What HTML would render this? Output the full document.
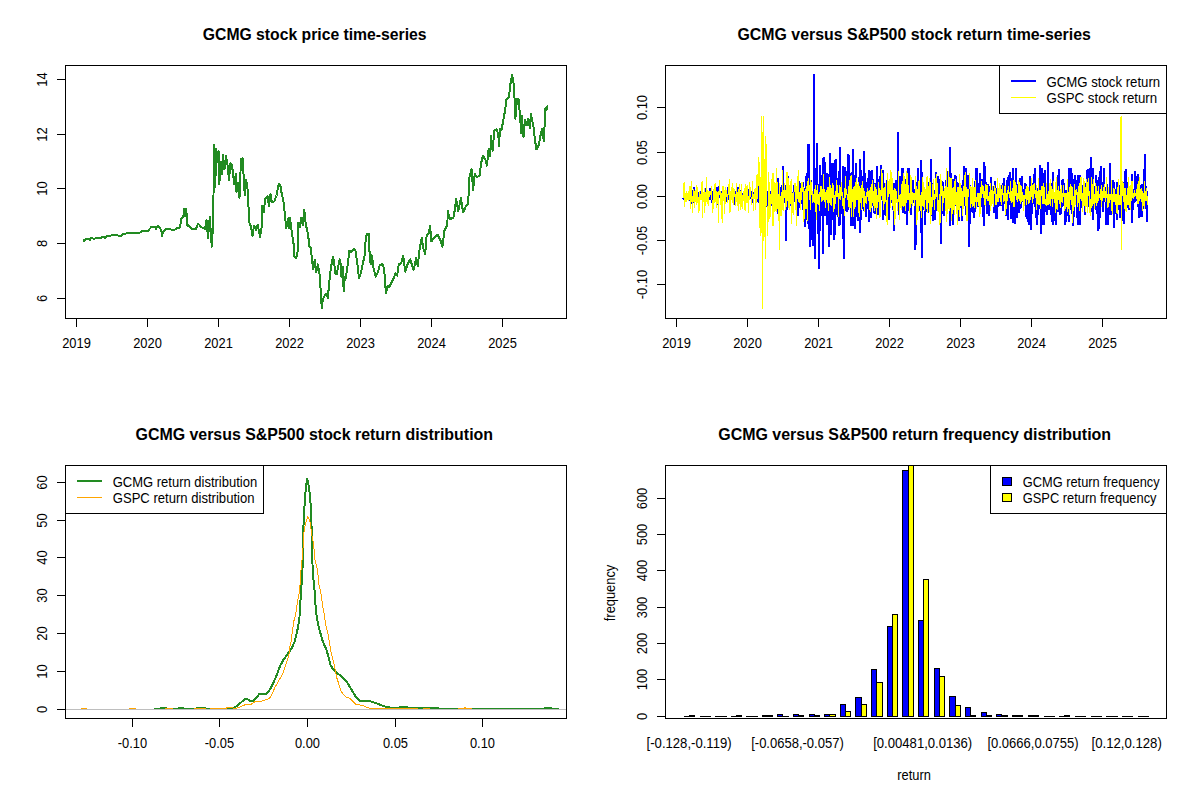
<!DOCTYPE html>
<html><head><meta charset="utf-8"><style>
html,body{margin:0;padding:0;background:#fff;width:1200px;height:800px;overflow:hidden}
svg{display:block}
text{font-family:"Liberation Sans",sans-serif;fill:#000}
.a{font-size:12.9px}
.t{font-size:15.6px;font-weight:bold}
</style></head><body>
<svg width="1200" height="800" viewBox="0 0 1200 800">
<defs><clipPath id="c1"><rect x="65" y="65" width="502" height="254"/></clipPath><clipPath id="c2"><rect x="665" y="65" width="502" height="254"/></clipPath><clipPath id="c3"><rect x="65" y="465" width="502" height="254"/></clipPath><clipPath id="c4"><rect x="665" y="465" width="502" height="254"/></clipPath></defs>
<polyline points="83.50,242.20 84.40,239.90 87.20,239.00 89.90,239.90 90.80,237.60 94.00,239.00 96.30,237.60 101.80,237.60 102.70,236.70 105.50,238.00 107.30,235.75 114.70,235.30 121.10,235.75 122.90,234.40 125.70,233.50 128.40,232.80 139.40,232.80 141.20,231.60 144.00,230.70 148.10,230.70 151.30,227.00 153.20,227.50 155.00,226.60 155.90,228.90 157.70,225.70 160.00,227.50 161.40,231.20 161.90,236.20 163.20,232.10 165.50,229.30 169.70,229.30 174.20,230.20 177.90,227.50 179.70,227.50 180.70,222.90 181.60,217.90 183.40,217.40 183.90,208.70 185.20,216.50 186.20,208.70 187.50,226.10 188.50,225.00 191.50,228.75 196.00,228.75 198.20,223.50 201.20,227.20 205.00,228.75 206.50,219.75 208.00,237.75 209.80,216.75 211.75,246.75 213.25,221.25 214.00,144.75 215.20,187.50 216.25,148.50 217.75,162.00 218.50,150.75 219.25,184.50 220.75,162.00 222.25,174.00 223.00,154.50 224.50,169.50 226.00,156.00 227.50,165.00 229.00,180.00 230.50,163.50 232.00,165.00 234.25,184.50 235.75,174.00 236.50,192.00 238.00,183.00 239.50,198.00 241.00,159.00 242.50,158.25 243.25,169.50 244.75,195.00 246.25,180.00 247.75,190.50 248.50,207.00 249.25,222.00 251.00,227.00 252.50,236.00 254.00,225.50 256.25,230.00 257.75,224.75 260.00,236.75 261.50,228.50 262.25,206.00 263.75,212.00 265.25,198.50 267.50,196.25 269.00,206.00 270.50,194.00 272.00,202.25 274.25,201.50 276.50,195.50 278.75,183.50 280.25,185.00 281.75,194.00 283.25,200.00 284.75,213.50 286.25,228.50 288.50,218.00 289.25,228.50 290.00,218.00 291.50,230.00 293.75,245.00 294.50,257.00 296.00,258.50 297.50,252.50 298.25,222.50 299.75,227.00 301.25,218.00 302.75,225.50 304.25,209.75 305.75,224.00 308.00,234.50 309.50,246.50 311.00,248.00 311.75,258.50 313.25,269.00 314.75,260.00 316.25,272.25 317.80,264.40 319.50,273.40 320.60,289.10 321.75,308.25 322.90,299.25 324.60,295.90 326.25,293.60 327.90,298.10 329.00,284.60 330.20,273.40 331.30,265.50 333.00,256.50 334.10,262.10 335.25,273.40 336.90,274.50 338.10,266.60 339.75,259.30 340.90,265.50 341.40,276.75 342.60,266.60 343.70,291.40 344.80,276.75 345.90,277.90 347.10,268.90 348.20,261.00 349.30,250.90 351.60,252.00 353.80,248.60 355.50,250.90 357.20,262.10 358.90,277.90 361.10,272.25 362.80,263.25 364.50,256.50 365.10,245.25 366.75,234.00 369.00,234.00 369.60,254.25 370.70,264.40 371.80,255.40 373.50,267.75 375.75,276.75 378.00,272.25 379.70,265.50 382.50,263.80 384.20,268.90 385.30,285.75 385.90,293.10 387.60,285.75 389.25,286.90 391.50,282.40 393.75,277.90 395.40,273.40 397.10,275.60 398.80,264.40 401.20,263.50 403.25,255.90 405.30,271.75 407.40,264.90 410.10,259.40 413.60,269.70 416.30,258.00 417.70,266.25 419.75,248.40 421.80,238.10 423.20,248.40 425.25,253.90 426.60,236.00 428.70,233.25 430.10,225.70 431.40,241.50 434.20,237.40 437.60,234.60 440.40,240.10 442.40,247.00 444.50,230.50 447.25,225.00 447.90,211.25 450.00,219.50 453.40,217.40 454.80,209.90 456.20,198.90 458.25,211.25 461.00,198.20 463.10,212.60 465.80,206.40 467.90,204.40 468.60,194.75 469.10,178.75 471.50,169.00 473.10,190.10 474.75,173.90 477.20,177.10 479.60,175.50 481.25,162.50 482.90,156.00 485.30,159.25 486.90,165.75 488.60,149.50 490.20,156.00 491.00,135.70 492.60,151.10 494.25,130.80 496.70,129.20 498.30,134.90 499.10,146.25 499.90,128.40 501.60,130.00 503.20,120.25 504.80,112.10 506.40,99.90 508.90,97.50 510.50,83.70 512.10,74.75 513.75,84.50 514.60,99.10 515.40,118.60 517.00,99.10 518.60,99.10 520.25,118.60 521.10,133.25 521.90,115.40 523.50,137.30 525.10,120.25 526.75,125.10 528.40,118.60 530.00,128.40 530.80,113.75 533.25,125.10 534.90,139.75 536.50,149.50 538.90,144.60 540.60,134.90 542.20,129.20 543.80,141.40 544.60,125.10 545.40,108.10 547.10,106.40 547.50,110.50" fill="none" stroke="#228B22" stroke-width="2" stroke-linejoin="round" shape-rendering="crispEdges" clip-path="url(#c1)"/>
<text x="202.8" y="40" transform="translate(0 40) scale(1 1.05) translate(0 -40)" style="font-size:15.742px;font-weight:bold;">GCMG stock price time-series</text>
<rect x="76" y="319" width="1" height="8" fill="#000"/>
<text x="76.5" y="348" transform="translate(0 348) scale(1 1.07) translate(0 -348)" text-anchor="middle" class="a">2019</text>
<rect x="147" y="319" width="1" height="8" fill="#000"/>
<text x="147.5" y="348" transform="translate(0 348) scale(1 1.07) translate(0 -348)" text-anchor="middle" class="a">2020</text>
<rect x="218" y="319" width="1" height="8" fill="#000"/>
<text x="218.5" y="348" transform="translate(0 348) scale(1 1.07) translate(0 -348)" text-anchor="middle" class="a">2021</text>
<rect x="289" y="319" width="1" height="8" fill="#000"/>
<text x="289.5" y="348" transform="translate(0 348) scale(1 1.07) translate(0 -348)" text-anchor="middle" class="a">2022</text>
<rect x="360" y="319" width="1" height="8" fill="#000"/>
<text x="360.5" y="348" transform="translate(0 348) scale(1 1.07) translate(0 -348)" text-anchor="middle" class="a">2023</text>
<rect x="431" y="319" width="1" height="8" fill="#000"/>
<text x="431.5" y="348" transform="translate(0 348) scale(1 1.07) translate(0 -348)" text-anchor="middle" class="a">2024</text>
<rect x="502" y="319" width="1" height="8" fill="#000"/>
<text x="502.5" y="348" transform="translate(0 348) scale(1 1.07) translate(0 -348)" text-anchor="middle" class="a">2025</text>
<rect x="57" y="298" width="8" height="1" fill="#000"/>
<text x="47.3" y="298.5" transform="rotate(-90 47.3 298.5) translate(0 298.5) scale(1 1.07) translate(0 -298.5)" text-anchor="middle" class="a">6</text>
<rect x="57" y="243" width="8" height="1" fill="#000"/>
<text x="47.3" y="243.5" transform="rotate(-90 47.3 243.5) translate(0 243.5) scale(1 1.07) translate(0 -243.5)" text-anchor="middle" class="a">8</text>
<rect x="57" y="188" width="8" height="1" fill="#000"/>
<text x="47.3" y="188.5" transform="rotate(-90 47.3 188.5) translate(0 188.5) scale(1 1.07) translate(0 -188.5)" text-anchor="middle" class="a">10</text>
<rect x="57" y="134" width="8" height="1" fill="#000"/>
<text x="47.3" y="134.5" transform="rotate(-90 47.3 134.5) translate(0 134.5) scale(1 1.07) translate(0 -134.5)" text-anchor="middle" class="a">12</text>
<rect x="57" y="79" width="8" height="1" fill="#000"/>
<text x="47.3" y="79.5" transform="rotate(-90 47.3 79.5) translate(0 79.5) scale(1 1.07) translate(0 -79.5)" text-anchor="middle" class="a">14</text>
<polyline points="683.20,197.5 683.48,199.2 683.76,197.5 684.04,191.7 684.33,199.5 684.61,197.9 684.89,193.3 685.17,199.6 685.45,197.6 685.73,197.3 686.02,196.4 686.30,199.4 686.58,193.7 686.86,195.7 687.14,193.6 687.42,198.4 687.71,196.4 687.99,195.3 688.27,193.6 688.55,195.4 688.83,196.3 689.11,194.8 689.39,200.8 689.68,199.8 689.96,187.2 690.24,189.7 690.52,195.7 690.80,194.8 691.08,197.0 691.37,197.5 691.65,203.7 691.93,192.4 692.21,195.0 692.49,203.4 692.77,199.9 693.05,198.6 693.34,194.5 693.62,187.2 693.90,196.9 694.18,196.7 694.46,192.0 694.74,193.9 695.03,196.0 695.31,193.0 695.59,196.0 695.87,196.8 696.15,196.4 696.43,194.5 696.72,198.4 697.00,199.4 697.28,197.4 697.56,193.4 697.84,198.9 698.12,194.5 698.40,199.4 698.69,192.5 698.97,199.5 699.25,196.2 699.53,191.9 699.81,195.2 700.09,196.5 700.38,197.3 700.66,192.9 700.94,192.4 701.22,197.0 701.50,194.7 701.78,197.1 702.06,199.0 702.35,190.5 702.63,197.2 702.91,200.6 703.19,195.3 703.47,193.5 703.75,198.9 704.04,197.2 704.32,199.4 704.60,195.1 704.88,188.0 705.16,195.9 705.44,194.7 705.73,199.0 706.01,197.0 706.29,190.6 706.57,189.6 706.85,199.4 707.13,198.7 707.41,194.1 707.70,196.3 707.98,197.9 708.26,197.9 708.54,199.4 708.82,197.2 709.10,195.8 709.39,195.4 709.67,200.0 709.95,188.4 710.23,195.8 710.51,196.5 710.79,191.3 711.07,197.5 711.36,194.0 711.64,199.3 711.92,195.9 712.20,198.6 712.48,203.1 712.76,197.6 713.05,193.2 713.33,191.0 713.61,202.4 713.89,195.9 714.17,193.9 714.45,196.8 714.74,195.6 715.02,199.3 715.30,196.4 715.58,196.4 715.86,193.8 716.14,197.9 716.42,192.7 716.71,198.6 716.99,201.6 717.27,187.8 717.55,187.7 717.83,198.5 718.11,205.2 718.40,192.8 718.68,189.3 718.96,198.4 719.24,193.4 719.52,193.5 719.80,195.1 720.08,198.2 720.37,194.9 720.65,197.3 720.93,195.7 721.21,193.3 721.49,195.2 721.77,193.0 722.06,196.3 722.34,192.4 722.62,192.5 722.90,201.4 723.18,196.1 723.46,196.0 723.75,198.1 724.03,193.9 724.31,195.5 724.59,197.8 724.87,197.3 725.15,192.2 725.43,199.2 725.72,194.2 726.00,192.6 726.28,193.1 726.56,194.9 726.84,202.0 727.12,192.2 727.41,197.2 727.69,187.2 727.97,196.3 728.25,199.4 728.53,195.5 728.81,194.1 729.10,197.1 729.38,198.8 729.66,198.6 729.94,205.4 730.22,197.0 730.50,194.2 730.78,195.9 731.07,196.0 731.35,196.7 731.63,196.2 731.91,196.9 732.19,190.5 732.47,199.2 732.76,194.3 733.04,192.2 733.32,198.5 733.60,200.9 733.88,198.0 734.16,196.9 734.44,191.1 734.73,205.4 735.01,201.2 735.29,192.3 735.57,193.6 735.85,196.6 736.13,190.9 736.42,197.2 736.70,194.7 736.98,200.6 737.26,199.7 737.54,187.2 737.82,196.4 738.11,187.2 738.39,200.2 738.67,196.9 738.95,198.2 739.23,192.6 739.51,202.7 739.79,203.4 740.08,190.3 740.36,197.6 740.64,193.9 740.92,196.2 741.20,191.9 741.48,202.8 741.77,192.9 742.05,195.3 742.33,199.1 742.61,194.0 742.89,195.5 743.17,194.3 743.45,195.8 743.74,192.2 744.02,194.8 744.30,195.6 744.58,195.1 744.86,196.5 745.14,195.3 745.43,198.9 745.71,195.2 745.99,195.5 746.27,194.0 746.55,194.5 746.83,189.2 747.12,198.1 747.40,192.3 747.68,193.7 747.96,197.6 748.24,197.7 748.52,194.9 748.80,189.2 749.09,197.8 749.37,197.2 749.65,191.4 749.93,199.0 750.21,193.8 750.49,192.4 750.78,196.6 751.06,195.7 751.34,197.0 751.62,190.7 751.90,202.6 752.18,194.2 752.46,190.9 752.75,198.5 753.03,194.3 753.31,197.4 753.59,195.1 753.87,196.1 754.15,197.2 754.44,193.7 754.72,198.7 755.00,194.7 755.28,193.0 755.56,196.8 755.84,198.3 756.13,195.2 756.41,191.9 756.69,201.7 756.97,186.1 757.25,180.3 757.53,201.3 757.81,187.1 758.10,196.5 758.38,195.7 758.66,202.5 758.94,186.3 759.22,192.0 759.50,199.9 759.79,179.7 760.07,213.7 760.35,188.9 760.63,191.5 760.91,202.0 761.19,196.0 761.47,184.7 761.76,200.4 762.04,205.1 762.32,193.4 762.60,194.5 762.88,199.4 763.16,190.6 763.45,199.0 763.73,197.5 764.01,192.2 764.29,187.8 764.57,194.9 764.85,191.0 765.14,202.3 765.42,197.2 765.70,203.9 765.98,197.6 766.26,198.9 766.54,191.5 766.82,200.4 767.11,207.3 767.39,194.4 767.67,192.6 767.95,195.3 768.23,193.3 768.51,191.9 768.80,197.2 769.08,193.4 769.36,205.4 769.64,196.3 769.92,198.3 770.20,202.3 770.49,194.4 770.77,205.5 771.05,192.2 771.33,191.1 771.61,193.9 771.89,195.6 772.17,187.2 772.46,195.9 772.74,179.4 773.02,210.9 773.30,195.8 773.58,192.1 773.86,190.3 774.15,192.2 774.43,194.8 774.71,189.4 774.99,190.2 775.27,195.0 775.55,192.8 775.83,202.6 776.12,204.0 776.40,196.4 776.68,199.5 776.96,187.2 777.24,200.6 777.52,196.1 777.81,199.6 778.09,213.9 778.37,178.4 778.65,198.1 778.93,188.7 779.21,200.4 779.50,187.2 779.78,192.8 780.06,197.7 780.34,200.6 780.62,196.8 780.90,190.8 781.18,192.5 781.47,202.4 781.75,196.3 782.03,184.9 782.31,202.0 782.59,200.8 782.87,166.3 783.16,194.0 783.44,201.8 783.72,189.3 784.00,200.1 784.28,193.1 784.56,200.7 784.84,202.9 785.13,188.7 785.41,196.0 785.69,196.6 785.97,241.3 786.25,200.8 786.53,183.9 786.82,199.2 787.10,201.0 787.38,209.6 787.66,185.8 787.94,176.3 788.22,204.5 788.51,188.0 788.79,189.0 789.07,199.5 789.35,202.5 789.63,192.3 789.91,199.5 790.19,197.0 790.48,205.5 790.76,196.3 791.04,202.3 791.32,190.8 791.60,194.5 791.88,195.7 792.17,207.6 792.45,199.9 792.73,191.6 793.01,200.6 793.29,201.2 793.57,195.6 793.85,194.7 794.14,195.1 794.42,185.4 794.70,197.5 794.98,197.8 795.26,187.3 795.54,204.1 795.83,187.3 796.11,192.7 796.39,193.1 796.67,209.6 796.95,185.6 797.23,200.1 797.52,216.3 797.80,198.9 798.08,204.3 798.36,189.4 798.64,180.6 798.92,201.6 799.20,188.0 799.49,194.0 799.77,183.1 800.05,208.3 800.33,203.0 800.61,186.7 800.89,204.4 801.18,197.5 801.46,194.9 801.74,196.9 802.02,192.6 802.30,203.7 802.58,200.2 802.86,191.7 803.15,210.2 803.43,182.2 803.71,200.6 803.99,202.9 804.27,220.3 804.55,187.8 804.84,226.8 805.12,199.5 805.40,192.7 805.68,220.3 805.96,208.0 806.24,197.3 806.53,174.3 806.81,173.9 807.09,185.3 807.37,182.9 807.65,217.9 807.93,223.5 808.21,213.4 808.50,144.3 808.78,187.9 809.06,197.4 809.34,213.6 809.62,238.0 809.90,214.1 810.19,247.3 810.47,197.0 810.75,181.3 811.03,181.1 811.31,190.6 811.59,200.1 811.88,231.7 812.16,197.3 812.44,238.0 812.72,246.1 813.00,197.8 813.28,227.0 813.56,218.1 813.85,74.3 814.13,201.3 814.41,197.0 814.69,259.3 814.97,190.3 815.25,199.0 815.54,204.5 815.82,169.7 816.10,196.1 816.38,167.8 816.66,201.2 816.94,143.3 817.22,201.2 817.51,204.8 817.79,213.8 818.07,184.0 818.35,189.2 818.63,269.3 818.91,214.7 819.20,203.5 819.48,243.9 819.76,165.3 820.04,214.5 820.32,219.4 820.60,193.9 820.89,181.4 821.17,174.9 821.45,199.2 821.73,216.3 822.01,201.2 822.29,201.3 822.57,189.5 822.86,254.3 823.14,158.2 823.42,200.4 823.70,196.8 823.98,157.4 824.26,170.3 824.55,171.8 824.83,165.9 825.11,162.5 825.39,215.8 825.67,180.7 825.95,208.0 826.23,206.6 826.52,200.8 826.80,173.5 827.08,185.7 827.36,225.3 827.64,174.0 827.92,181.9 828.21,193.5 828.49,210.2 828.77,200.6 829.05,247.3 829.33,178.1 829.61,222.1 829.90,155.3 830.18,153.0 830.46,222.4 830.74,235.2 831.02,183.3 831.30,197.2 831.58,219.9 831.87,171.3 832.15,162.7 832.43,174.4 832.71,186.7 832.99,186.6 833.27,206.5 833.56,200.8 833.84,162.8 834.12,205.8 834.40,239.9 834.68,228.3 834.96,222.9 835.24,196.6 835.53,159.3 835.81,180.2 836.09,208.8 836.37,194.0 836.65,215.1 836.93,204.1 837.22,178.2 837.50,198.4 837.78,216.5 838.06,177.6 838.34,187.0 838.62,183.6 838.91,171.5 839.19,221.7 839.47,226.3 839.75,217.4 840.03,147.3 840.31,194.9 840.59,200.2 840.88,184.3 841.16,211.0 841.44,213.5 841.72,211.6 842.00,187.6 842.28,197.6 842.57,193.6 842.85,238.8 843.13,199.2 843.41,165.6 843.69,202.8 843.97,259.3 844.25,207.5 844.54,210.6 844.82,196.9 845.10,168.3 845.38,166.9 845.66,176.1 845.94,193.0 846.23,201.3 846.51,207.5 846.79,190.8 847.07,211.8 847.35,191.8 847.63,184.9 847.92,210.0 848.20,181.6 848.48,154.5 848.76,179.3 849.04,197.8 849.32,154.6 849.60,187.1 849.89,187.8 850.17,173.5 850.45,172.7 850.73,226.3 851.01,187.7 851.29,216.1 851.58,202.2 851.86,171.6 852.14,183.0 852.42,207.2 852.70,225.6 852.98,202.3 853.27,149.3 853.55,224.8 853.83,196.0 854.11,191.6 854.39,174.9 854.67,188.6 854.95,229.0 855.24,175.0 855.52,196.5 855.80,162.9 856.08,198.2 856.36,217.2 856.64,192.7 856.93,207.0 857.21,206.8 857.49,202.8 857.77,221.1 858.05,220.3 858.33,191.9 858.61,186.6 858.90,177.1 859.18,203.0 859.46,191.7 859.74,232.8 860.02,159.3 860.30,193.3 860.59,191.7 860.87,219.7 861.15,170.4 861.43,190.1 861.71,209.3 861.99,176.5 862.28,189.8 862.56,191.6 862.84,205.2 863.12,198.1 863.40,201.7 863.68,151.3 863.96,196.7 864.25,210.9 864.53,186.8 864.81,177.6 865.09,173.2 865.37,175.3 865.65,189.2 865.94,217.4 866.22,198.5 866.50,188.7 866.78,182.8 867.06,189.6 867.34,191.2 867.62,189.3 867.91,178.5 868.19,186.9 868.47,208.8 868.75,169.7 869.03,193.4 869.31,222.3 869.60,198.5 869.88,187.3 870.16,171.3 870.44,176.3 870.72,218.1 871.00,198.4 871.29,210.2 871.57,195.4 871.85,170.5 872.13,205.7 872.41,188.3 872.69,178.9 872.97,205.6 873.26,199.7 873.54,190.1 873.82,212.8 874.10,186.0 874.38,203.9 874.66,185.2 874.95,202.6 875.23,183.3 875.51,213.9 875.79,199.3 876.07,213.2 876.35,186.6 876.63,190.7 876.92,178.3 877.20,165.7 877.48,183.8 877.76,208.4 878.04,201.8 878.32,214.7 878.61,192.7 878.89,202.9 879.17,187.8 879.45,180.3 879.73,176.5 880.01,189.9 880.30,189.9 880.58,189.0 880.86,166.0 881.14,166.1 881.42,186.4 881.70,199.6 881.98,189.6 882.27,186.1 882.55,169.6 882.83,219.7 883.11,183.6 883.39,215.7 883.67,214.3 883.96,199.5 884.24,189.7 884.52,197.8 884.80,183.0 885.08,199.3 885.36,196.3 885.64,202.4 885.93,207.2 886.21,216.2 886.49,191.9 886.77,208.2 887.05,187.2 887.33,180.0 887.62,185.0 887.90,185.1 888.18,207.5 888.46,206.8 888.74,219.5 889.02,196.0 889.31,199.4 889.59,189.7 889.87,183.3 890.15,201.4 890.43,199.3 890.71,183.8 890.99,202.9 891.28,176.6 891.56,194.3 891.84,189.2 892.12,190.3 892.40,184.1 892.68,207.0 892.97,206.5 893.25,209.6 893.53,197.8 893.81,231.3 894.09,192.1 894.37,183.0 894.66,201.3 894.94,209.7 895.22,199.8 895.50,185.4 895.78,192.0 896.06,198.4 896.34,180.1 896.63,197.8 896.91,199.6 897.19,190.1 897.47,191.5 897.75,198.0 898.03,132.3 898.32,187.0 898.60,209.7 898.88,198.5 899.16,214.6 899.44,185.2 899.72,176.5 900.00,206.4 900.29,206.6 900.57,187.9 900.85,179.9 901.13,195.0 901.41,176.7 901.69,192.2 901.98,167.7 902.26,193.4 902.54,167.7 902.82,193.3 903.10,212.6 903.38,193.0 903.67,204.4 903.95,188.9 904.23,186.1 904.51,179.4 904.79,207.3 905.07,195.2 905.35,213.7 905.64,182.9 905.92,193.4 906.20,196.7 906.48,211.3 906.76,224.9 907.04,188.7 907.33,183.3 907.61,167.7 907.89,210.5 908.17,194.8 908.45,188.6 908.73,194.5 909.01,167.7 909.30,176.8 909.58,206.0 909.86,200.1 910.14,197.4 910.42,184.7 910.70,202.2 910.99,215.3 911.27,182.3 911.55,195.9 911.83,187.7 912.11,199.7 912.39,195.9 912.68,194.1 912.96,179.8 913.24,195.5 913.52,188.9 913.80,194.1 914.08,195.0 914.36,202.9 914.65,189.3 914.93,192.1 915.21,214.2 915.49,250.3 915.77,192.8 916.05,205.2 916.34,200.1 916.62,196.7 916.90,198.1 917.18,182.1 917.46,203.5 917.74,210.3 918.02,202.1 918.31,168.0 918.59,198.9 918.87,185.8 919.15,193.3 919.43,197.2 919.71,182.7 920.00,210.5 920.28,194.3 920.56,204.6 920.84,202.8 921.12,160.3 921.40,216.6 921.69,258.3 921.97,196.4 922.25,172.4 922.53,191.0 922.81,203.8 923.09,206.0 923.37,210.1 923.66,191.8 923.94,199.4 924.22,197.0 924.50,209.9 924.78,213.4 925.06,192.0 925.35,224.9 925.63,195.9 925.91,191.9 926.19,202.5 926.47,204.3 926.75,202.0 927.03,188.8 927.32,212.2 927.60,196.6 927.88,212.9 928.16,211.3 928.44,182.0 928.72,185.3 929.01,185.0 929.29,198.8 929.57,196.7 929.85,200.7 930.13,187.1 930.41,203.5 930.70,211.5 930.98,159.3 931.26,193.9 931.54,200.4 931.82,194.7 932.10,193.9 932.38,215.6 932.67,210.2 932.95,205.5 933.23,182.6 933.51,220.8 933.79,200.1 934.07,189.8 934.36,192.4 934.64,190.8 934.92,219.5 935.20,198.4 935.48,196.8 935.76,172.5 936.04,204.3 936.33,184.5 936.61,183.7 936.89,202.9 937.17,186.7 937.45,210.8 937.73,208.5 938.02,176.5 938.30,194.7 938.58,178.8 938.86,195.5 939.14,206.2 939.42,181.2 939.71,224.9 939.99,190.6 940.27,183.1 940.55,194.8 940.83,244.3 941.11,181.0 941.39,196.1 941.68,181.0 941.96,209.4 942.24,197.8 942.52,191.4 942.80,214.2 943.08,181.9 943.37,191.8 943.65,216.4 943.93,194.7 944.21,211.0 944.49,198.2 944.77,188.4 945.06,193.4 945.34,196.9 945.62,191.6 945.90,187.0 946.18,187.5 946.46,179.8 946.74,197.3 947.03,200.4 947.31,204.3 947.59,176.2 947.87,204.9 948.15,195.6 948.43,170.8 948.72,197.1 949.00,205.0 949.28,201.8 949.56,208.7 949.84,206.5 950.12,147.3 950.40,226.3 950.69,173.2 950.97,182.6 951.25,200.0 951.53,190.9 951.81,208.0 952.09,204.8 952.38,196.6 952.66,224.9 952.94,178.8 953.22,206.3 953.50,190.9 953.78,187.5 954.07,202.6 954.35,189.3 954.63,205.5 954.91,175.4 955.19,196.5 955.47,186.8 955.75,191.8 956.04,192.0 956.32,176.1 956.60,203.3 956.88,182.4 957.16,185.3 957.44,205.9 957.73,206.8 958.01,203.4 958.29,202.0 958.57,221.2 958.85,182.8 959.13,187.9 959.41,185.2 959.70,206.0 959.98,199.3 960.26,208.3 960.54,206.8 960.82,193.6 961.10,187.1 961.39,185.2 961.67,220.5 961.95,206.8 962.23,202.7 962.51,192.4 962.79,194.0 963.08,190.0 963.36,192.6 963.64,169.7 963.92,195.5 964.20,191.9 964.48,166.3 964.76,198.4 965.05,205.5 965.33,196.0 965.61,204.9 965.89,168.0 966.17,184.0 966.45,215.1 966.74,182.7 967.02,193.1 967.30,203.9 967.58,180.5 967.86,204.1 968.14,180.4 968.42,175.1 968.71,181.5 968.99,178.0 969.27,247.3 969.55,192.6 969.83,199.8 970.11,184.8 970.40,224.1 970.68,195.1 970.96,195.2 971.24,201.2 971.52,193.5 971.80,189.2 972.09,197.1 972.37,206.3 972.65,207.8 972.93,212.6 973.21,189.9 973.49,187.6 973.77,218.2 974.06,193.5 974.34,201.4 974.62,204.3 974.90,211.8 975.18,181.3 975.46,190.9 975.75,191.4 976.03,190.8 976.31,167.7 976.59,195.1 976.87,167.7 977.15,199.5 977.43,202.1 977.72,202.8 978.00,182.9 978.28,206.7 978.56,186.7 978.84,182.7 979.12,185.4 979.41,186.9 979.69,198.1 979.97,210.7 980.25,173.1 980.53,190.3 980.81,206.1 981.10,198.5 981.38,201.8 981.66,179.7 981.94,206.7 982.22,179.0 982.50,198.4 982.78,211.3 983.07,217.0 983.35,201.9 983.63,206.0 983.91,226.3 984.19,191.0 984.47,162.3 984.76,196.3 985.04,194.9 985.32,180.8 985.60,198.0 985.88,203.4 986.16,182.3 986.45,190.7 986.73,213.7 987.01,199.4 987.29,193.1 987.57,183.8 987.85,189.5 988.13,191.9 988.42,211.4 988.70,189.6 988.98,216.0 989.26,186.1 989.54,192.4 989.82,205.6 990.11,192.1 990.39,187.2 990.67,194.0 990.95,204.2 991.23,177.4 991.51,193.6 991.79,195.1 992.08,191.9 992.36,204.4 992.64,186.3 992.92,192.3 993.20,196.7 993.48,204.3 993.77,193.9 994.05,213.0 994.33,186.3 994.61,210.5 994.89,181.2 995.17,193.4 995.46,200.3 995.74,218.9 996.02,206.2 996.30,189.2 996.58,219.2 996.86,193.9 997.14,187.6 997.43,201.2 997.71,197.3 997.99,206.8 998.27,190.3 998.55,203.0 998.83,203.3 999.12,199.4 999.40,196.0 999.68,188.6 999.96,206.2 1000.24,197.8 1000.52,201.8 1000.80,192.4 1001.09,196.4 1001.37,184.9 1001.65,197.8 1001.93,204.7 1002.21,197.3 1002.49,205.8 1002.78,199.7 1003.06,211.3 1003.34,193.0 1003.62,178.3 1003.90,203.9 1004.18,193.4 1004.47,185.6 1004.75,203.5 1005.03,201.0 1005.31,201.2 1005.59,192.6 1005.87,198.5 1006.15,199.1 1006.44,215.8 1006.72,184.3 1007.00,196.1 1007.28,200.3 1007.56,177.3 1007.84,178.7 1008.13,220.1 1008.41,176.9 1008.69,202.6 1008.97,187.0 1009.25,187.9 1009.53,174.5 1009.81,180.4 1010.10,204.9 1010.38,171.9 1010.66,202.8 1010.94,199.7 1011.22,218.5 1011.50,191.1 1011.79,210.2 1012.07,206.1 1012.35,193.1 1012.63,167.7 1012.91,222.9 1013.19,181.3 1013.48,191.1 1013.76,206.0 1014.04,208.6 1014.32,181.4 1014.60,195.9 1014.88,193.5 1015.16,209.3 1015.45,223.9 1015.73,176.2 1016.01,206.4 1016.29,167.7 1016.57,196.5 1016.85,184.1 1017.14,218.2 1017.42,198.1 1017.70,188.2 1017.98,190.8 1018.26,190.0 1018.54,199.6 1018.82,194.6 1019.11,203.5 1019.39,213.2 1019.67,204.0 1019.95,182.8 1020.23,178.4 1020.51,188.0 1020.80,207.9 1021.08,192.6 1021.36,189.0 1021.64,198.7 1021.92,180.7 1022.20,176.2 1022.49,201.9 1022.77,193.0 1023.05,191.3 1023.33,199.8 1023.61,189.9 1023.89,188.8 1024.17,191.2 1024.46,202.9 1024.74,197.0 1025.02,183.2 1025.30,193.0 1025.58,203.4 1025.86,216.9 1026.15,183.7 1026.43,200.0 1026.71,191.7 1026.99,205.4 1027.27,201.2 1027.55,222.2 1027.84,202.0 1028.12,190.3 1028.40,186.8 1028.68,203.4 1028.96,203.3 1029.24,224.9 1029.52,214.7 1029.81,175.6 1030.09,200.2 1030.37,181.7 1030.65,178.1 1030.93,204.5 1031.21,230.3 1031.50,184.9 1031.78,214.4 1032.06,185.5 1032.34,183.5 1032.62,203.5 1032.90,200.2 1033.18,194.5 1033.47,195.6 1033.75,198.8 1034.03,194.8 1034.31,194.4 1034.59,167.7 1034.87,181.5 1035.16,207.1 1035.44,188.6 1035.72,202.3 1036.00,218.0 1036.28,192.4 1036.56,201.3 1036.85,224.9 1037.13,203.9 1037.41,216.6 1037.69,213.2 1037.97,204.6 1038.25,195.1 1038.53,187.0 1038.82,184.1 1039.10,201.6 1039.38,201.5 1039.66,194.4 1039.94,165.3 1040.22,189.7 1040.51,208.5 1040.79,234.3 1041.07,195.7 1041.35,196.3 1041.63,195.2 1041.91,224.9 1042.19,167.9 1042.48,198.2 1042.76,210.0 1043.04,208.9 1043.32,193.0 1043.60,224.9 1043.88,184.5 1044.17,173.3 1044.45,202.5 1044.73,180.3 1045.01,170.1 1045.29,211.8 1045.57,204.7 1045.86,204.4 1046.14,190.9 1046.42,198.3 1046.70,185.7 1046.98,215.4 1047.26,205.0 1047.54,204.5 1047.83,174.9 1048.11,205.2 1048.39,162.3 1048.67,209.7 1048.95,205.0 1049.23,196.3 1049.52,192.5 1049.80,206.9 1050.08,203.0 1050.36,198.9 1050.64,190.9 1050.92,214.8 1051.20,183.5 1051.49,196.1 1051.77,189.9 1052.05,214.5 1052.33,221.5 1052.61,210.0 1052.89,204.6 1053.18,171.6 1053.46,224.9 1053.74,205.4 1054.02,195.1 1054.30,196.5 1054.58,192.6 1054.87,201.0 1055.15,199.7 1055.43,192.3 1055.71,225.3 1055.99,195.7 1056.27,204.7 1056.55,202.1 1056.84,194.6 1057.12,201.3 1057.40,207.6 1057.68,191.1 1057.96,212.4 1058.24,174.8 1058.53,182.4 1058.81,186.3 1059.09,169.4 1059.37,178.7 1059.65,210.0 1059.93,210.0 1060.21,197.4 1060.50,215.2 1060.78,198.9 1061.06,190.8 1061.34,199.0 1061.62,194.8 1061.90,204.4 1062.19,179.8 1062.47,207.3 1062.75,191.2 1063.03,205.7 1063.31,179.3 1063.59,188.9 1063.88,197.2 1064.16,206.2 1064.44,182.9 1064.72,224.9 1065.00,201.6 1065.28,190.5 1065.56,209.7 1065.85,197.4 1066.13,209.0 1066.41,221.9 1066.69,204.8 1066.97,190.5 1067.25,191.6 1067.54,202.7 1067.82,199.5 1068.10,187.1 1068.38,189.0 1068.66,203.6 1068.94,222.1 1069.23,167.7 1069.51,204.3 1069.79,192.6 1070.07,210.0 1070.35,205.8 1070.63,196.9 1070.91,185.1 1071.20,180.9 1071.48,167.7 1071.76,209.7 1072.04,194.0 1072.32,190.4 1072.60,226.3 1072.89,181.6 1073.17,199.7 1073.45,219.5 1073.73,208.8 1074.01,179.1 1074.29,211.3 1074.57,187.9 1074.86,175.3 1075.14,182.8 1075.42,185.7 1075.70,196.2 1075.98,184.9 1076.26,179.7 1076.55,193.4 1076.83,217.5 1077.11,188.6 1077.39,201.4 1077.67,197.2 1077.95,224.9 1078.24,175.4 1078.52,208.3 1078.80,182.2 1079.08,185.9 1079.36,195.2 1079.64,224.9 1079.92,187.9 1080.21,175.5 1080.49,210.6 1080.77,181.5 1081.05,193.6 1081.33,196.0 1081.61,197.4 1081.90,194.4 1082.18,199.2 1082.46,203.1 1082.74,205.7 1083.02,191.6 1083.30,188.1 1083.58,184.6 1083.87,202.8 1084.15,195.8 1084.43,206.0 1084.71,202.2 1084.99,214.8 1085.27,198.6 1085.56,204.6 1085.84,183.1 1086.12,184.4 1086.40,192.9 1086.68,182.9 1086.96,203.9 1087.25,170.3 1087.53,197.1 1087.81,169.3 1088.09,184.1 1088.37,190.3 1088.65,193.5 1088.93,176.6 1089.22,198.2 1089.50,207.0 1089.78,203.4 1090.06,189.1 1090.34,189.8 1090.62,157.3 1090.91,203.2 1091.19,212.2 1091.47,187.0 1091.75,177.6 1092.03,198.5 1092.31,204.1 1092.59,167.7 1092.88,197.8 1093.16,220.1 1093.44,205.3 1093.72,202.4 1094.00,200.7 1094.28,208.0 1094.57,185.9 1094.85,187.0 1095.13,200.8 1095.41,188.8 1095.69,199.1 1095.97,175.3 1096.26,209.6 1096.54,205.6 1096.82,196.8 1097.10,199.2 1097.38,214.1 1097.66,184.4 1097.94,180.2 1098.23,184.3 1098.51,231.3 1098.79,185.2 1099.07,196.7 1099.35,184.8 1099.63,170.8 1099.92,179.2 1100.20,217.6 1100.48,195.5 1100.76,192.3 1101.04,166.3 1101.32,195.4 1101.60,204.6 1101.89,202.5 1102.17,189.8 1102.45,181.9 1102.73,184.4 1103.01,182.6 1103.29,211.6 1103.58,186.3 1103.86,167.9 1104.14,187.1 1104.42,187.7 1104.70,199.9 1104.98,186.6 1105.27,202.1 1105.55,200.5 1105.83,210.1 1106.11,219.9 1106.39,224.5 1106.67,211.0 1106.95,183.7 1107.24,191.9 1107.52,199.0 1107.80,224.5 1108.08,203.6 1108.36,209.3 1108.64,194.4 1108.93,202.7 1109.21,204.1 1109.49,191.4 1109.77,163.3 1110.05,214.8 1110.33,194.6 1110.62,213.9 1110.90,214.0 1111.18,197.0 1111.46,196.3 1111.74,193.0 1112.02,189.6 1112.30,198.0 1112.59,191.9 1112.87,193.0 1113.15,188.0 1113.43,179.8 1113.71,186.3 1113.99,199.8 1114.28,228.3 1114.56,189.4 1114.84,213.8 1115.12,208.3 1115.40,188.9 1115.68,202.7 1115.96,189.4 1116.25,213.6 1116.53,190.1 1116.81,197.2 1117.09,219.9 1117.37,182.2 1117.65,210.2 1117.94,187.6 1118.22,198.8 1118.50,193.2 1118.78,194.8 1119.06,198.0 1119.34,195.5 1119.63,185.5 1119.91,205.5 1120.19,203.9 1120.47,218.1 1120.75,210.9 1121.03,173.6 1121.31,209.9 1121.60,210.0 1121.88,190.7 1122.16,207.2 1122.44,221.0 1122.72,187.2 1123.00,181.8 1123.29,192.5 1123.57,223.6 1123.85,198.8 1124.13,183.6 1124.41,193.6 1124.69,185.9 1124.97,192.1 1125.26,197.9 1125.54,169.1 1125.82,200.1 1126.10,211.1 1126.38,193.0 1126.66,192.3 1126.95,207.7 1127.23,183.1 1127.51,183.3 1127.79,181.8 1128.07,194.7 1128.35,200.4 1128.64,195.4 1128.92,202.0 1129.20,210.1 1129.48,201.5 1129.76,187.9 1130.04,193.5 1130.32,209.2 1130.61,185.5 1130.89,193.7 1131.17,192.0 1131.45,194.4 1131.73,185.2 1132.01,174.0 1132.30,222.7 1132.58,206.0 1132.86,189.0 1133.14,195.7 1133.42,203.3 1133.70,192.8 1133.98,202.6 1134.27,190.0 1134.55,192.6 1134.83,195.4 1135.11,191.6 1135.39,171.2 1135.67,196.6 1135.96,200.6 1136.24,201.2 1136.52,186.1 1136.80,199.8 1137.08,198.5 1137.36,178.2 1137.65,173.8 1137.93,201.2 1138.21,186.6 1138.49,206.5 1138.77,218.1 1139.05,190.4 1139.33,185.1 1139.62,196.2 1139.90,207.3 1140.18,184.8 1140.46,216.5 1140.74,212.4 1141.02,203.0 1141.31,190.8 1141.59,205.6 1141.87,205.0 1142.15,184.2 1142.43,217.4 1142.71,191.4 1142.99,200.0 1143.28,187.8 1143.56,202.5 1143.84,208.0 1144.12,188.2 1144.40,179.7 1144.68,154.3 1144.97,183.2 1145.25,188.7 1145.53,195.0 1145.81,195.7 1146.09,209.2 1146.37,186.1 1146.66,199.8 1146.94,191.2 1147.22,210.0 1147.50,221.6" fill="none" stroke="#0000FF" stroke-width="2" shape-rendering="crispEdges" clip-path="url(#c2)"/>
<polyline points="683.20,198.1 683.48,191.3 683.76,193.8 684.04,181.6 684.33,207.1 684.61,203.2 684.89,193.2 685.17,201.0 685.45,198.0 685.73,193.0 686.02,202.2 686.30,194.4 686.58,193.1 686.86,191.5 687.14,199.1 687.42,195.7 687.71,199.6 687.99,192.6 688.27,197.1 688.55,190.9 688.83,201.4 689.11,197.4 689.39,199.5 689.68,200.3 689.96,186.4 690.24,201.1 690.52,208.9 690.80,186.2 691.08,185.7 691.37,181.5 691.65,201.5 691.93,197.1 692.21,202.9 692.49,213.3 692.77,197.6 693.05,198.1 693.34,194.6 693.62,201.7 693.90,189.3 694.18,193.7 694.46,198.7 694.74,207.5 695.03,191.6 695.31,189.6 695.59,192.8 695.87,202.3 696.15,194.8 696.43,204.6 696.72,184.6 697.00,203.3 697.28,202.8 697.56,187.4 697.84,197.3 698.12,203.9 698.40,196.9 698.69,206.3 698.97,212.6 699.25,198.0 699.53,194.5 699.81,191.4 700.09,200.4 700.38,195.1 700.66,194.5 700.94,195.6 701.22,200.4 701.50,189.5 701.78,186.6 702.06,180.8 702.35,203.9 702.63,218.3 702.91,205.9 703.19,196.2 703.47,191.6 703.75,201.2 704.04,195.8 704.32,188.3 704.60,190.6 704.88,213.0 705.16,198.6 705.44,199.0 705.73,193.4 706.01,191.9 706.29,202.1 706.57,177.3 706.85,191.4 707.13,195.4 707.41,190.4 707.70,197.5 707.98,203.6 708.26,190.9 708.54,205.6 708.82,191.9 709.10,197.3 709.39,190.8 709.67,194.8 709.95,196.6 710.23,191.7 710.51,191.7 710.79,191.8 711.07,190.9 711.36,186.0 711.64,194.6 711.92,198.9 712.20,202.3 712.48,200.6 712.76,212.6 713.05,198.4 713.33,193.3 713.61,208.7 713.89,189.3 714.17,202.7 714.45,189.9 714.74,200.1 715.02,183.2 715.30,202.3 715.58,195.2 715.86,189.8 716.14,207.6 716.42,201.4 716.71,196.6 716.99,191.3 717.27,196.0 717.55,195.2 717.83,204.1 718.11,201.7 718.40,191.8 718.68,223.3 718.96,192.7 719.24,187.2 719.52,192.3 719.80,180.3 720.08,201.0 720.37,205.3 720.65,190.8 720.93,200.0 721.21,193.3 721.49,210.3 721.77,196.0 722.06,223.3 722.34,186.2 722.62,190.8 722.90,197.7 723.18,193.7 723.46,198.7 723.75,185.8 724.03,200.7 724.31,190.3 724.59,213.7 724.87,194.4 725.15,203.6 725.43,187.0 725.72,199.2 726.00,190.4 726.28,193.1 726.56,196.5 726.84,194.2 727.12,198.1 727.41,201.3 727.69,203.2 727.97,195.7 728.25,187.3 728.53,187.8 728.81,195.0 729.10,179.2 729.38,204.2 729.66,194.7 729.94,213.3 730.22,206.3 730.50,200.7 730.78,197.7 731.07,189.7 731.35,198.3 731.63,199.9 731.91,187.1 732.19,203.1 732.47,199.6 732.76,183.5 733.04,197.1 733.32,188.1 733.60,203.7 733.88,204.7 734.16,189.2 734.44,190.6 734.73,197.0 735.01,194.8 735.29,206.1 735.57,203.9 735.85,194.5 736.13,200.0 736.42,183.2 736.70,198.3 736.98,201.9 737.26,194.5 737.54,191.8 737.82,199.9 738.11,208.8 738.39,197.6 738.67,189.2 738.95,211.0 739.23,184.4 739.51,199.5 739.79,192.6 740.08,202.2 740.36,190.9 740.64,209.7 740.92,198.2 741.20,185.4 741.48,183.8 741.77,194.3 742.05,209.3 742.33,197.1 742.61,197.0 742.89,194.8 743.17,200.9 743.45,200.1 743.74,198.1 744.02,190.1 744.30,203.7 744.58,209.9 744.86,188.2 745.14,210.6 745.43,200.8 745.71,193.3 745.99,184.5 746.27,202.8 746.55,199.8 746.83,190.4 747.12,185.2 747.40,203.2 747.68,192.7 747.96,193.4 748.24,212.3 748.52,212.3 748.80,205.7 749.09,193.5 749.37,200.3 749.65,182.3 749.93,197.0 750.21,191.7 750.49,188.5 750.78,186.7 751.06,199.5 751.34,196.8 751.62,197.9 751.90,204.5 752.18,191.2 752.46,184.3 752.75,180.6 753.03,194.3 753.31,200.9 753.59,195.4 753.87,211.3 754.15,189.2 754.44,193.5 754.72,191.7 755.00,188.8 755.28,210.1 755.56,203.8 755.84,188.5 756.13,187.4 756.41,195.6 756.69,175.5 756.97,203.2 757.25,174.0 757.53,185.2 757.81,175.7 758.10,186.0 758.38,165.8 758.66,158.1 758.94,156.6 759.22,178.7 759.50,188.7 759.79,198.1 760.07,235.5 760.35,217.1 760.63,236.3 760.91,214.8 761.19,116.3 761.47,232.9 761.76,210.2 762.04,162.2 762.32,309.3 762.60,216.7 762.88,131.6 763.16,177.7 763.45,116.3 763.73,132.2 764.01,241.3 764.29,159.1 764.57,208.7 764.85,208.0 765.14,259.3 765.42,186.8 765.70,240.7 765.98,136.3 766.26,202.6 766.54,170.0 766.82,154.4 767.11,236.3 767.39,221.3 767.67,227.7 767.95,207.8 768.23,211.0 768.51,172.5 768.80,222.4 769.08,218.2 769.36,188.0 769.64,195.6 769.92,182.2 770.20,216.8 770.49,202.0 770.77,195.0 771.05,201.9 771.33,202.4 771.61,190.6 771.89,179.3 772.17,178.7 772.46,172.6 772.74,202.6 773.02,226.4 773.30,173.4 773.58,198.2 773.86,201.8 774.15,183.1 774.43,199.0 774.71,181.7 774.99,212.2 775.27,183.7 775.55,197.6 775.83,210.7 776.12,168.3 776.40,172.9 776.68,185.3 776.96,212.1 777.24,195.2 777.52,199.3 777.81,182.4 778.09,198.1 778.37,205.6 778.65,196.8 778.93,220.5 779.21,193.7 779.50,183.2 779.78,250.3 780.06,210.7 780.34,195.6 780.62,208.9 780.90,205.4 781.18,216.3 781.47,211.8 781.75,191.7 782.03,199.6 782.31,209.5 782.59,181.3 782.87,170.3 783.16,210.9 783.44,208.1 783.72,193.9 784.00,199.9 784.28,183.1 784.56,197.0 784.84,189.4 785.13,197.3 785.41,190.5 785.69,199.6 785.97,210.0 786.25,181.2 786.53,207.0 786.82,173.4 787.10,171.6 787.38,194.9 787.66,196.4 787.94,201.3 788.22,177.7 788.51,195.6 788.79,197.7 789.07,210.3 789.35,195.1 789.63,202.1 789.91,185.5 790.19,194.2 790.48,191.4 790.76,204.0 791.04,179.1 791.32,187.2 791.60,202.5 791.88,224.4 792.17,200.4 792.45,199.6 792.73,192.6 793.01,207.9 793.29,202.1 793.57,214.7 793.85,199.8 794.14,186.3 794.42,190.3 794.70,185.9 794.98,183.2 795.26,209.5 795.54,209.8 795.83,183.4 796.11,226.3 796.39,198.8 796.67,186.4 796.95,200.3 797.23,195.6 797.52,183.6 797.80,176.4 798.08,196.7 798.36,199.3 798.64,169.9 798.92,201.9 799.20,202.5 799.49,191.6 799.77,197.4 800.05,193.5 800.33,187.9 800.61,192.7 800.89,209.7 801.18,181.9 801.46,198.6 801.74,198.1 802.02,189.3 802.30,192.0 802.58,182.5 802.86,187.9 803.15,196.4 803.43,199.5 803.71,187.5 803.99,221.6 804.27,190.8 804.55,197.5 804.84,194.1 805.12,190.1 805.40,208.8 805.68,188.9 805.96,209.1 806.24,207.2 806.53,186.3 806.81,206.2 807.09,190.1 807.37,221.0 807.65,192.6 807.93,182.0 808.21,178.2 808.50,184.1 808.78,190.8 809.06,186.9 809.34,184.8 809.62,189.8 809.90,194.4 810.19,209.8 810.47,180.5 810.75,191.2 811.03,187.5 811.31,182.3 811.59,184.6 811.88,188.0 812.16,202.9 812.44,194.5 812.72,191.4 813.00,201.9 813.28,198.9 813.56,194.3 813.85,201.9 814.13,188.8 814.41,202.0 814.69,203.0 814.97,192.6 815.25,185.3 815.54,209.9 815.82,197.1 816.10,219.5 816.38,190.5 816.66,203.9 816.94,192.4 817.22,198.5 817.51,203.7 817.79,185.0 818.07,195.4 818.35,197.7 818.63,197.3 818.91,201.5 819.20,210.6 819.48,203.6 819.76,200.0 820.04,191.5 820.32,186.5 820.60,190.0 820.89,191.8 821.17,202.2 821.45,193.2 821.73,185.7 822.01,201.6 822.29,189.5 822.57,189.8 822.86,194.4 823.14,200.3 823.42,174.4 823.70,186.9 823.98,197.8 824.26,191.4 824.55,189.1 824.83,191.8 825.11,207.8 825.39,192.5 825.67,202.2 825.95,202.8 826.23,192.6 826.52,200.0 826.80,190.4 827.08,191.3 827.36,187.1 827.64,203.4 827.92,193.1 828.21,191.8 828.49,187.2 828.77,210.9 829.05,202.3 829.33,194.6 829.61,190.7 829.90,176.7 830.18,198.6 830.46,198.6 830.74,185.0 831.02,205.6 831.30,202.5 831.58,188.6 831.87,189.2 832.15,192.9 832.43,198.4 832.71,195.1 832.99,183.2 833.27,208.1 833.56,198.8 833.84,212.4 834.12,206.3 834.40,194.6 834.68,199.0 834.96,202.2 835.24,202.5 835.53,195.0 835.81,191.4 836.09,196.6 836.37,186.0 836.65,191.9 836.93,180.1 837.22,197.0 837.50,188.1 837.78,191.9 838.06,195.9 838.34,198.8 838.62,217.1 838.91,197.9 839.19,185.0 839.47,197.3 839.75,191.5 840.03,199.5 840.31,190.8 840.59,187.2 840.88,192.2 841.16,191.3 841.44,181.7 841.72,187.7 842.00,196.2 842.28,205.9 842.57,192.5 842.85,193.3 843.13,200.9 843.41,203.2 843.69,209.1 843.97,201.0 844.25,196.1 844.54,207.0 844.82,215.9 845.10,176.3 845.38,197.6 845.66,182.9 845.94,193.4 846.23,189.2 846.51,194.6 846.79,192.4 847.07,195.0 847.35,195.0 847.63,200.2 847.92,198.1 848.20,191.8 848.48,186.0 848.76,206.2 849.04,207.6 849.32,192.7 849.60,203.5 849.89,184.1 850.17,176.3 850.45,194.1 850.73,208.1 851.01,187.9 851.29,189.6 851.58,216.9 851.86,175.5 852.14,201.5 852.42,200.2 852.70,194.6 852.98,197.8 853.27,217.1 853.55,187.3 853.83,193.8 854.11,194.4 854.39,190.8 854.67,185.6 854.95,209.0 855.24,198.1 855.52,182.2 855.80,190.7 856.08,199.5 856.36,199.5 856.64,177.9 856.93,195.6 857.21,198.4 857.49,199.4 857.77,199.5 858.05,181.7 858.33,211.1 858.61,198.0 858.90,210.7 859.18,217.1 859.46,195.0 859.74,186.4 860.02,203.2 860.30,194.9 860.59,192.7 860.87,188.0 861.15,209.8 861.43,192.8 861.71,185.1 861.99,192.7 862.28,181.5 862.56,197.6 862.84,190.9 863.12,187.8 863.40,201.1 863.68,191.2 863.96,205.6 864.25,212.4 864.53,193.4 864.81,191.1 865.09,197.9 865.37,203.4 865.65,196.3 865.94,197.4 866.22,196.1 866.50,200.3 866.78,204.3 867.06,190.7 867.34,192.4 867.62,196.9 867.91,187.8 868.19,197.4 868.47,200.6 868.75,196.1 869.03,191.5 869.31,190.1 869.60,210.3 869.88,203.3 870.16,187.3 870.44,189.5 870.72,211.6 871.00,208.7 871.29,198.0 871.57,205.9 871.85,183.9 872.13,196.3 872.41,202.6 872.69,180.4 872.97,189.6 873.26,203.1 873.54,206.2 873.82,191.1 874.10,198.9 874.38,210.5 874.66,192.9 874.95,184.3 875.23,195.7 875.51,192.7 875.79,208.2 876.07,197.8 876.35,188.9 876.63,218.7 876.92,191.6 877.20,200.8 877.48,202.7 877.76,208.3 878.04,198.0 878.32,202.0 878.61,195.6 878.89,182.4 879.17,194.1 879.45,194.3 879.73,194.5 880.01,218.3 880.30,190.0 880.58,209.7 880.86,212.2 881.14,173.8 881.42,196.4 881.70,189.0 881.98,169.3 882.27,200.6 882.55,189.8 882.83,189.9 883.11,189.4 883.39,207.9 883.67,209.6 883.96,199.3 884.24,203.8 884.52,195.1 884.80,197.8 885.08,183.2 885.36,196.7 885.64,188.4 885.93,200.4 886.21,205.4 886.49,199.7 886.77,209.3 887.05,224.9 887.33,173.1 887.62,196.5 887.90,190.0 888.18,191.3 888.46,181.4 888.74,196.9 889.02,193.5 889.31,189.3 889.59,193.5 889.87,189.8 890.15,170.5 890.43,208.2 890.71,191.0 890.99,179.6 891.28,199.7 891.56,189.0 891.84,172.4 892.12,206.1 892.40,177.9 892.68,193.9 892.97,197.6 893.25,211.1 893.53,209.4 893.81,198.1 894.09,187.9 894.37,191.7 894.66,208.3 894.94,224.9 895.22,202.3 895.50,189.2 895.78,207.6 896.06,192.2 896.34,191.8 896.63,193.2 896.91,202.8 897.19,199.3 897.47,207.2 897.75,210.6 898.03,201.9 898.32,170.6 898.60,177.6 898.88,199.1 899.16,195.6 899.44,220.1 899.72,196.0 900.00,194.6 900.29,206.7 900.57,208.0 900.85,193.7 901.13,201.5 901.41,183.8 901.69,185.9 901.98,209.9 902.26,180.8 902.54,206.4 902.82,203.8 903.10,204.8 903.38,206.3 903.67,206.2 903.95,172.7 904.23,185.3 904.51,189.7 904.79,206.4 905.07,183.9 905.35,188.5 905.64,192.3 905.92,210.8 906.20,170.9 906.48,181.4 906.76,203.2 907.04,172.9 907.33,200.0 907.61,188.3 907.89,179.0 908.17,191.7 908.45,185.3 908.73,198.1 909.01,200.3 909.30,212.7 909.58,196.1 909.86,197.4 910.14,189.9 910.42,196.0 910.70,207.8 910.99,175.1 911.27,203.6 911.55,190.4 911.83,197.1 912.11,199.9 912.39,205.7 912.68,198.9 912.96,192.0 913.24,199.7 913.52,196.4 913.80,194.1 914.08,199.9 914.36,205.9 914.65,197.8 914.93,198.0 915.21,182.1 915.49,194.9 915.77,175.9 916.05,204.2 916.34,186.0 916.62,210.5 916.90,224.9 917.18,189.3 917.46,219.7 917.74,200.7 918.02,190.2 918.31,181.5 918.59,202.5 918.87,211.6 919.15,200.2 919.43,179.7 919.71,184.8 920.00,193.8 920.28,211.2 920.56,199.4 920.84,199.9 921.12,217.6 921.40,194.0 921.69,195.3 921.97,194.3 922.25,176.7 922.53,201.4 922.81,200.8 923.09,207.0 923.37,183.2 923.66,181.9 923.94,206.6 924.22,199.9 924.50,211.4 924.78,186.8 925.06,198.5 925.35,188.9 925.63,199.7 925.91,191.0 926.19,202.2 926.47,208.2 926.75,208.2 927.03,176.4 927.32,212.9 927.60,201.2 927.88,184.8 928.16,186.6 928.44,196.4 928.72,202.6 929.01,191.3 929.29,178.5 929.57,199.4 929.85,198.2 930.13,223.2 930.41,182.1 930.70,224.1 930.98,215.5 931.26,199.6 931.54,214.5 931.82,197.4 932.10,207.1 932.38,188.2 932.67,197.7 932.95,185.1 933.23,179.0 933.51,193.3 933.79,189.1 934.07,202.6 934.36,210.3 934.64,194.4 934.92,196.9 935.20,198.4 935.48,177.8 935.76,199.3 936.04,196.4 936.33,195.8 936.61,184.2 936.89,174.5 937.17,193.5 937.45,201.9 937.73,211.1 938.02,208.7 938.30,212.3 938.58,200.4 938.86,209.0 939.14,194.0 939.42,203.2 939.71,206.5 939.99,224.9 940.27,200.6 940.55,173.9 940.83,211.5 941.11,187.6 941.39,195.6 941.68,193.1 941.96,180.3 942.24,211.0 942.52,202.9 942.80,189.6 943.08,197.1 943.37,191.5 943.65,203.1 943.93,192.1 944.21,187.9 944.49,189.2 944.77,191.5 945.06,199.5 945.34,186.2 945.62,195.3 945.90,204.1 946.18,222.0 946.46,205.7 946.74,167.7 947.03,187.3 947.31,191.9 947.59,201.9 947.87,213.6 948.15,204.5 948.43,171.0 948.72,199.7 949.00,197.5 949.28,203.6 949.56,211.2 949.84,177.1 950.12,208.4 950.40,178.1 950.69,196.9 950.97,203.0 951.25,221.4 951.53,183.9 951.81,177.7 952.09,203.9 952.38,189.0 952.66,213.5 952.94,188.5 953.22,186.7 953.50,210.0 953.78,197.2 954.07,207.3 954.35,180.6 954.63,214.5 954.91,189.8 955.19,205.3 955.47,185.2 955.75,179.2 956.04,193.5 956.32,199.4 956.60,213.6 956.88,200.2 957.16,204.2 957.44,203.5 957.73,224.9 958.01,187.3 958.29,210.1 958.57,194.7 958.85,199.2 959.13,190.3 959.41,216.8 959.70,174.2 959.98,181.8 960.26,194.0 960.54,183.7 960.82,203.9 961.10,206.2 961.39,188.2 961.67,204.7 961.95,189.3 962.23,195.8 962.51,196.4 962.79,215.9 963.08,196.3 963.36,186.9 963.64,186.9 963.92,208.6 964.20,179.3 964.48,191.5 964.76,192.5 965.05,171.8 965.33,191.6 965.61,206.2 965.89,199.9 966.17,187.5 966.45,203.0 966.74,204.3 967.02,221.3 967.30,189.2 967.58,192.6 967.86,196.7 968.14,195.0 968.42,197.1 968.71,195.3 968.99,189.9 969.27,172.8 969.55,188.1 969.83,183.7 970.11,186.9 970.40,188.5 970.68,200.8 970.96,208.2 971.24,187.2 971.52,198.9 971.80,203.1 972.09,195.8 972.37,182.2 972.65,177.9 972.93,206.8 973.21,203.8 973.49,198.4 973.77,187.4 974.06,208.0 974.34,206.0 974.62,195.7 974.90,193.1 975.18,180.5 975.46,202.1 975.75,183.2 976.03,201.5 976.31,201.9 976.59,196.8 976.87,208.6 977.15,193.5 977.43,200.8 977.72,202.4 978.00,198.1 978.28,192.8 978.56,205.8 978.84,199.4 979.12,193.6 979.41,194.8 979.69,197.1 979.97,216.6 980.25,196.9 980.53,194.2 980.81,187.8 981.10,186.6 981.38,181.4 981.66,197.9 981.94,196.3 982.22,188.2 982.50,184.7 982.78,192.0 983.07,192.1 983.35,185.8 983.63,198.4 983.91,197.7 984.19,195.7 984.47,202.0 984.76,191.1 985.04,206.4 985.32,183.6 985.60,200.0 985.88,200.9 986.16,194.1 986.45,198.7 986.73,186.4 987.01,184.8 987.29,194.6 987.57,190.6 987.85,200.5 988.13,196.3 988.42,200.7 988.70,198.4 988.98,197.6 989.26,196.8 989.54,193.3 989.82,192.6 990.11,211.1 990.39,183.1 990.67,194.7 990.95,203.5 991.23,199.1 991.51,206.4 991.79,200.1 992.08,186.8 992.36,192.1 992.64,185.8 992.92,203.2 993.20,206.5 993.48,190.8 993.77,200.0 994.05,193.1 994.33,185.6 994.61,192.8 994.89,184.6 995.17,191.9 995.46,198.3 995.74,201.2 996.02,205.3 996.30,193.6 996.58,197.7 996.86,199.0 997.14,199.9 997.43,177.8 997.71,190.5 997.99,201.6 998.27,188.1 998.55,197.7 998.83,201.8 999.12,182.6 999.40,194.6 999.68,197.6 999.96,195.8 1000.24,185.2 1000.52,198.4 1000.80,192.0 1001.09,204.9 1001.37,198.9 1001.65,189.5 1001.93,197.1 1002.21,191.0 1002.49,191.0 1002.78,184.8 1003.06,194.2 1003.34,201.5 1003.62,196.6 1003.90,195.2 1004.18,191.3 1004.47,192.1 1004.75,201.0 1005.03,185.2 1005.31,210.2 1005.59,195.2 1005.87,214.6 1006.15,203.9 1006.44,192.7 1006.72,200.8 1007.00,197.4 1007.28,198.9 1007.56,201.2 1007.84,191.7 1008.13,188.2 1008.41,192.6 1008.69,185.9 1008.97,193.7 1009.25,197.1 1009.53,197.3 1009.81,196.9 1010.10,190.5 1010.38,201.0 1010.66,181.0 1010.94,190.5 1011.22,193.1 1011.50,201.7 1011.79,202.4 1012.07,201.0 1012.35,195.5 1012.63,202.1 1012.91,188.2 1013.19,195.5 1013.48,180.4 1013.76,207.4 1014.04,206.5 1014.32,187.9 1014.60,189.3 1014.88,180.4 1015.16,184.4 1015.45,196.1 1015.73,194.1 1016.01,184.8 1016.29,191.7 1016.57,190.5 1016.85,199.9 1017.14,200.3 1017.42,193.7 1017.70,196.1 1017.98,195.2 1018.26,180.4 1018.54,196.5 1018.82,194.8 1019.11,200.6 1019.39,182.2 1019.67,200.7 1019.95,187.4 1020.23,197.2 1020.51,203.9 1020.80,184.8 1021.08,186.0 1021.36,202.4 1021.64,187.2 1021.92,188.5 1022.20,199.6 1022.49,193.8 1022.77,200.8 1023.05,197.4 1023.33,195.1 1023.61,202.3 1023.89,210.9 1024.17,194.6 1024.46,205.9 1024.74,203.4 1025.02,196.0 1025.30,198.6 1025.58,188.6 1025.86,190.9 1026.15,197.3 1026.43,195.0 1026.71,204.6 1026.99,186.1 1027.27,193.2 1027.55,190.8 1027.84,194.2 1028.12,203.6 1028.40,186.7 1028.68,201.4 1028.96,191.1 1029.24,193.0 1029.52,202.5 1029.81,193.3 1030.09,200.1 1030.37,196.2 1030.65,194.1 1030.93,190.7 1031.21,177.7 1031.50,186.3 1031.78,196.6 1032.06,196.8 1032.34,184.7 1032.62,202.6 1032.90,199.5 1033.18,186.1 1033.47,187.9 1033.75,199.1 1034.03,182.8 1034.31,190.1 1034.59,194.3 1034.87,193.5 1035.16,195.0 1035.44,198.3 1035.72,189.7 1036.00,192.0 1036.28,210.2 1036.56,185.4 1036.85,192.3 1037.13,196.3 1037.41,190.8 1037.69,204.3 1037.97,196.0 1038.25,201.0 1038.53,177.6 1038.82,204.1 1039.10,203.8 1039.38,190.1 1039.66,205.0 1039.94,197.5 1040.22,202.2 1040.51,208.6 1040.79,196.3 1041.07,188.3 1041.35,195.5 1041.63,186.4 1041.91,189.8 1042.19,186.4 1042.48,187.0 1042.76,204.0 1043.04,201.7 1043.32,184.9 1043.60,203.8 1043.88,183.5 1044.17,190.9 1044.45,194.7 1044.73,204.3 1045.01,201.0 1045.29,200.6 1045.57,205.2 1045.86,200.9 1046.14,205.6 1046.42,190.1 1046.70,183.5 1046.98,192.8 1047.26,205.1 1047.54,197.7 1047.83,202.2 1048.11,201.0 1048.39,201.5 1048.67,205.0 1048.95,190.6 1049.23,203.7 1049.52,188.5 1049.80,195.0 1050.08,179.1 1050.36,201.4 1050.64,184.6 1050.92,206.0 1051.20,186.1 1051.49,197.7 1051.77,194.8 1052.05,189.5 1052.33,204.9 1052.61,192.7 1052.89,206.5 1053.18,183.6 1053.46,190.0 1053.74,181.3 1054.02,199.9 1054.30,202.5 1054.58,197.5 1054.87,194.7 1055.15,189.1 1055.43,213.0 1055.71,204.2 1055.99,182.4 1056.27,193.6 1056.55,177.4 1056.84,207.4 1057.12,210.3 1057.40,206.5 1057.68,195.0 1057.96,191.5 1058.24,185.6 1058.53,199.8 1058.81,190.4 1059.09,193.1 1059.37,191.2 1059.65,193.6 1059.93,202.4 1060.21,208.2 1060.50,197.0 1060.78,196.0 1061.06,187.7 1061.34,186.9 1061.62,188.1 1061.90,202.4 1062.19,197.7 1062.47,203.0 1062.75,199.0 1063.03,193.0 1063.31,186.8 1063.59,193.2 1063.88,185.4 1064.16,210.6 1064.44,197.9 1064.72,193.2 1065.00,210.6 1065.28,193.1 1065.56,200.0 1065.85,194.7 1066.13,198.6 1066.41,193.2 1066.69,199.6 1066.97,206.5 1067.25,186.6 1067.54,179.5 1067.82,211.7 1068.10,197.7 1068.38,206.1 1068.66,192.3 1068.94,207.4 1069.23,215.4 1069.51,187.3 1069.79,200.9 1070.07,191.4 1070.35,184.0 1070.63,193.7 1070.91,200.1 1071.20,185.7 1071.48,186.3 1071.76,205.0 1072.04,196.1 1072.32,198.8 1072.60,187.3 1072.89,223.3 1073.17,196.7 1073.45,197.2 1073.73,196.8 1074.01,207.6 1074.29,197.3 1074.57,184.3 1074.86,184.9 1075.14,195.2 1075.42,205.1 1075.70,190.5 1075.98,192.6 1076.26,195.3 1076.55,190.2 1076.83,189.4 1077.11,193.7 1077.39,206.8 1077.67,199.1 1077.95,193.3 1078.24,198.4 1078.52,185.8 1078.80,202.9 1079.08,200.9 1079.36,198.4 1079.64,183.2 1079.92,210.6 1080.21,177.1 1080.49,187.9 1080.77,188.5 1081.05,200.6 1081.33,177.0 1081.61,197.6 1081.90,193.0 1082.18,193.2 1082.46,201.8 1082.74,211.9 1083.02,198.3 1083.30,193.3 1083.58,178.3 1083.87,206.4 1084.15,193.1 1084.43,181.5 1084.71,196.7 1084.99,206.3 1085.27,194.3 1085.56,186.6 1085.84,212.4 1086.12,202.3 1086.40,198.0 1086.68,207.2 1086.96,179.1 1087.25,194.9 1087.53,194.2 1087.81,212.5 1088.09,191.2 1088.37,188.4 1088.65,178.3 1088.93,189.3 1089.22,194.0 1089.50,197.5 1089.78,192.7 1090.06,215.7 1090.34,199.3 1090.62,200.4 1090.91,211.6 1091.19,202.8 1091.47,188.8 1091.75,176.9 1092.03,198.3 1092.31,189.3 1092.59,205.5 1092.88,189.8 1093.16,178.7 1093.44,195.6 1093.72,203.7 1094.00,194.0 1094.28,197.4 1094.57,196.7 1094.85,208.6 1095.13,197.9 1095.41,195.3 1095.69,190.9 1095.97,183.1 1096.26,206.2 1096.54,204.3 1096.82,188.3 1097.10,202.5 1097.38,198.0 1097.66,192.7 1097.94,191.3 1098.23,201.3 1098.51,186.4 1098.79,191.6 1099.07,195.0 1099.35,195.5 1099.63,193.9 1099.92,197.2 1100.20,199.6 1100.48,188.7 1100.76,196.2 1101.04,191.5 1101.32,207.0 1101.60,184.8 1101.89,192.2 1102.17,200.9 1102.45,193.4 1102.73,193.0 1103.01,191.5 1103.29,197.9 1103.58,186.7 1103.86,195.0 1104.14,194.8 1104.42,184.5 1104.70,197.7 1104.98,192.1 1105.27,199.0 1105.55,202.2 1105.83,198.3 1106.11,186.7 1106.39,198.1 1106.67,176.8 1106.95,189.9 1107.24,208.4 1107.52,195.4 1107.80,207.6 1108.08,194.4 1108.36,195.8 1108.64,187.3 1108.93,206.9 1109.21,194.3 1109.49,200.6 1109.77,199.1 1110.05,199.9 1110.33,198.3 1110.62,195.6 1110.90,195.9 1111.18,190.7 1111.46,179.8 1111.74,201.7 1112.02,211.8 1112.30,204.2 1112.59,213.8 1112.87,199.7 1113.15,188.8 1113.43,188.6 1113.71,201.8 1113.99,198.7 1114.28,194.9 1114.56,201.8 1114.84,189.5 1115.12,202.5 1115.40,194.1 1115.68,197.4 1115.96,205.3 1116.25,195.2 1116.53,213.0 1116.81,206.4 1117.09,190.5 1117.37,213.9 1117.65,186.9 1117.94,195.6 1118.22,201.9 1118.50,179.0 1118.78,204.2 1119.06,205.0 1119.34,195.5 1119.63,198.4 1119.91,198.0 1120.19,194.8 1120.47,204.5 1120.75,193.5 1121.03,116.3 1121.31,250.3 1121.60,202.8 1121.88,204.8 1122.16,185.1 1122.44,180.9 1122.72,195.3 1123.00,196.0 1123.29,183.3 1123.57,198.7 1123.85,201.2 1124.13,201.1 1124.41,208.9 1124.69,188.5 1124.97,196.7 1125.26,211.0 1125.54,201.5 1125.82,187.9 1126.10,197.9 1126.38,205.3 1126.66,212.2 1126.95,201.4 1127.23,205.2 1127.51,187.9 1127.79,194.5 1128.07,205.4 1128.35,189.0 1128.64,195.6 1128.92,176.8 1129.20,207.6 1129.48,195.3 1129.76,200.6 1130.04,184.9 1130.32,186.3 1130.61,210.1 1130.89,193.7 1131.17,192.2 1131.45,200.2 1131.73,200.5 1132.01,181.4 1132.30,188.9 1132.58,196.7 1132.86,196.3 1133.14,199.0 1133.42,193.0 1133.70,194.2 1133.98,197.9 1134.27,191.1 1134.55,189.9 1134.83,192.1 1135.11,196.3 1135.39,195.2 1135.67,192.6 1135.96,194.4 1136.24,195.9 1136.52,198.7 1136.80,199.0 1137.08,186.5 1137.36,203.7 1137.65,184.1 1137.93,200.4 1138.21,190.9 1138.49,203.3 1138.77,204.3 1139.05,176.8 1139.33,200.8 1139.62,199.5 1139.90,192.7 1140.18,199.1 1140.46,192.5 1140.74,197.1 1141.02,188.2 1141.31,202.1 1141.59,200.7 1141.87,201.8 1142.15,191.2 1142.43,210.1 1142.71,211.2 1142.99,195.5 1143.28,193.0 1143.56,193.1 1143.84,201.4 1144.12,208.6 1144.40,187.1 1144.68,180.9 1144.97,201.6 1145.25,195.9 1145.53,197.5 1145.81,200.1 1146.09,187.8 1146.37,196.9 1146.66,192.5 1146.94,199.0 1147.22,205.4 1147.50,196.2" fill="none" stroke="#FFFF00" stroke-width="1" shape-rendering="crispEdges" clip-path="url(#c2)"/>
<text x="737.5" y="40" transform="translate(0 40) scale(1 1.05) translate(0 -40)" style="font-size:15.906px;font-weight:bold;">GCMG versus S&amp;P500 stock return time-series</text>
<rect x="676" y="319" width="1" height="8" fill="#000"/>
<text x="676.5" y="348" transform="translate(0 348) scale(1 1.07) translate(0 -348)" text-anchor="middle" class="a">2019</text>
<rect x="747" y="319" width="1" height="8" fill="#000"/>
<text x="747.5" y="348" transform="translate(0 348) scale(1 1.07) translate(0 -348)" text-anchor="middle" class="a">2020</text>
<rect x="818" y="319" width="1" height="8" fill="#000"/>
<text x="818.5" y="348" transform="translate(0 348) scale(1 1.07) translate(0 -348)" text-anchor="middle" class="a">2021</text>
<rect x="889" y="319" width="1" height="8" fill="#000"/>
<text x="889.5" y="348" transform="translate(0 348) scale(1 1.07) translate(0 -348)" text-anchor="middle" class="a">2022</text>
<rect x="960" y="319" width="1" height="8" fill="#000"/>
<text x="960.5" y="348" transform="translate(0 348) scale(1 1.07) translate(0 -348)" text-anchor="middle" class="a">2023</text>
<rect x="1031" y="319" width="1" height="8" fill="#000"/>
<text x="1031.5" y="348" transform="translate(0 348) scale(1 1.07) translate(0 -348)" text-anchor="middle" class="a">2024</text>
<rect x="1102" y="319" width="1" height="8" fill="#000"/>
<text x="1102.5" y="348" transform="translate(0 348) scale(1 1.07) translate(0 -348)" text-anchor="middle" class="a">2025</text>
<rect x="657" y="107" width="8" height="1" fill="#000"/>
<text x="647.3" y="107.5" transform="rotate(-90 647.3 107.5) translate(0 107.5) scale(1 1.07) translate(0 -107.5)" text-anchor="middle" class="a">0.10</text>
<rect x="657" y="152" width="8" height="1" fill="#000"/>
<text x="647.3" y="152.5" transform="rotate(-90 647.3 152.5) translate(0 152.5) scale(1 1.07) translate(0 -152.5)" text-anchor="middle" class="a">0.05</text>
<rect x="657" y="196" width="8" height="1" fill="#000"/>
<text x="647.3" y="196.5" transform="rotate(-90 647.3 196.5) translate(0 196.5) scale(1 1.07) translate(0 -196.5)" text-anchor="middle" class="a">0.00</text>
<rect x="657" y="240" width="8" height="1" fill="#000"/>
<text x="647.3" y="240.5" transform="rotate(-90 647.3 240.5) translate(0 240.5) scale(1 1.07) translate(0 -240.5)" text-anchor="middle" class="a">-0.05</text>
<rect x="657" y="284" width="8" height="1" fill="#000"/>
<text x="647.3" y="284.5" transform="rotate(-90 647.3 284.5) translate(0 284.5) scale(1 1.07) translate(0 -284.5)" text-anchor="middle" class="a">-0.10</text>
<polyline points="154.00,709.00 160.00,709.00 161.00,708.00 166.00,708.00 167.00,709.00 178.00,709.00 179.00,708.00 183.00,708.00 184.00,709.00 196.00,709.00 197.00,708.00 205.00,708.00 206.00,709.00 226.00,709.00 227.00,708.00 233.00,708.00 234.75,707.50 239.50,703.70 244.25,699.60 246.60,698.60 250.20,701.00 253.75,700.75 259.70,693.60 266.80,693.60 270.40,688.90 272.75,684.10 276.90,674.60 279.90,666.30 283.40,659.80 288.20,653.25 291.75,648.50 294.70,641.40 296.50,634.25 298.30,625.90 299.50,617.00 300.00,605.00 301.00,595.00 301.50,585.00 302.00,575.00 302.80,565.00 303.00,545.00 303.20,532.00 304.00,514.00 305.00,498.00 306.00,486.00 307.20,479.00 308.50,485.00 310.00,496.00 311.00,510.00 311.50,525.00 312.00,546.00 312.30,560.00 313.00,575.00 314.00,585.00 315.00,595.00 315.50,605.00 316.50,615.00 318.00,624.00 320.40,633.10 322.80,641.40 326.40,649.70 328.75,658.00 330.50,665.10 333.50,669.90 337.10,673.40 341.80,676.40 345.40,680.00 348.90,685.30 352.50,691.30 356.10,697.20 359.60,700.75 368.00,700.75 372.70,702.00 377.40,703.70 383.40,706.10 388.10,707.30 395.30,708.00 399.00,708.00 400.00,707.20 407.00,707.20 408.00,708.00 418.00,708.00 419.00,707.50 423.00,707.50 424.00,708.00 428.00,708.00 429.00,707.50 438.00,707.50 439.00,709.00 544.00,709.00 545.00,708.00 551.00,708.00 552.00,709.00 558.75,709.00" fill="none" stroke="#228B22" stroke-width="2" stroke-linejoin="round" shape-rendering="crispEdges" clip-path="url(#c3)"/>
<polyline points="75.00,709.50 81.00,709.50 81.50,708.50 86.75,708.50 87.00,709.50 129.00,709.50 129.50,708.50 135.50,708.50 136.00,709.50 165.50,709.50 166.00,708.50 172.00,708.50 172.50,709.50 194.50,709.50 195.00,708.50 205.00,708.50 205.50,709.50 210.50,709.50 211.00,708.50 226.00,708.50 226.50,707.50 232.00,707.50 233.50,708.50 235.90,708.50 240.70,706.70 245.40,704.60 251.40,704.10 254.90,701.70 262.10,701.10 265.60,699.80 269.20,698.40 271.60,695.40 274.50,688.30 278.70,680.60 282.30,674.60 285.80,665.10 288.80,655.60 290.00,646.10 291.20,641.40 292.35,630.70 294.10,620.00 295.50,615.00 296.50,609.00 297.50,601.00 299.00,594.00 300.00,585.00 300.50,575.00 301.50,565.00 302.50,555.00 303.20,545.00 303.50,536.00 304.50,529.00 305.50,524.00 306.50,520.00 307.80,516.50 309.50,520.00 310.50,524.00 311.50,534.00 312.50,538.00 313.50,544.00 315.00,560.00 317.00,568.00 318.00,575.00 319.00,585.00 320.50,591.00 321.50,597.00 322.50,605.00 323.50,610.00 324.50,615.00 325.50,624.00 326.40,627.10 328.75,637.80 330.50,649.70 332.90,659.20 335.30,669.90 336.50,677.00 338.85,684.10 340.60,690.10 343.00,694.20 346.60,697.40 350.10,698.40 353.70,702.00 356.10,704.60 362.00,705.30 366.80,707.30 370.30,708.50 389.50,708.50 390.00,708.50 396.00,708.50 398.00,708.50 417.00,708.50 417.50,709.50 423.50,709.50 424.00,708.50 429.00,708.50 429.50,709.50 458.50,709.50 459.00,708.50 464.50,708.50 465.00,707.50 466.00,708.50 471.00,708.50 471.50,709.50 560.00,709.50" fill="none" stroke="#FFA500" stroke-width="1" stroke-linejoin="round" shape-rendering="crispEdges" clip-path="url(#c3)"/>
<rect x="66" y="709" width="500" height="1" fill="#BEBEBE"/>
<text x="135.5" y="440" transform="translate(0 440) scale(1 1.05) translate(0 -440)" style="font-size:15.945px;font-weight:bold;">GCMG versus S&amp;P500 stock return distribution</text>
<rect x="132" y="719" width="1" height="8" fill="#000"/>
<text x="132.5" y="748" transform="translate(0 748) scale(1 1.07) translate(0 -748)" text-anchor="middle" class="a">-0.10</text>
<rect x="219" y="719" width="1" height="8" fill="#000"/>
<text x="219.5" y="748" transform="translate(0 748) scale(1 1.07) translate(0 -748)" text-anchor="middle" class="a">-0.05</text>
<rect x="307" y="719" width="1" height="8" fill="#000"/>
<text x="307.5" y="748" transform="translate(0 748) scale(1 1.07) translate(0 -748)" text-anchor="middle" class="a">0.00</text>
<rect x="395" y="719" width="1" height="8" fill="#000"/>
<text x="395.5" y="748" transform="translate(0 748) scale(1 1.07) translate(0 -748)" text-anchor="middle" class="a">0.05</text>
<rect x="482" y="719" width="1" height="8" fill="#000"/>
<text x="482.5" y="748" transform="translate(0 748) scale(1 1.07) translate(0 -748)" text-anchor="middle" class="a">0.10</text>
<rect x="57" y="709" width="8" height="1" fill="#000"/>
<text x="47.3" y="709.5" transform="rotate(-90 47.3 709.5) translate(0 709.5) scale(1 1.07) translate(0 -709.5)" text-anchor="middle" class="a">0</text>
<rect x="57" y="671" width="8" height="1" fill="#000"/>
<text x="47.3" y="671.5" transform="rotate(-90 47.3 671.5) translate(0 671.5) scale(1 1.07) translate(0 -671.5)" text-anchor="middle" class="a">10</text>
<rect x="57" y="633" width="8" height="1" fill="#000"/>
<text x="47.3" y="633.5" transform="rotate(-90 47.3 633.5) translate(0 633.5) scale(1 1.07) translate(0 -633.5)" text-anchor="middle" class="a">20</text>
<rect x="57" y="595" width="8" height="1" fill="#000"/>
<text x="47.3" y="595.5" transform="rotate(-90 47.3 595.5) translate(0 595.5) scale(1 1.07) translate(0 -595.5)" text-anchor="middle" class="a">30</text>
<rect x="57" y="557" width="8" height="1" fill="#000"/>
<text x="47.3" y="557.5" transform="rotate(-90 47.3 557.5) translate(0 557.5) scale(1 1.07) translate(0 -557.5)" text-anchor="middle" class="a">40</text>
<rect x="57" y="520" width="8" height="1" fill="#000"/>
<text x="47.3" y="520.5" transform="rotate(-90 47.3 520.5) translate(0 520.5) scale(1 1.07) translate(0 -520.5)" text-anchor="middle" class="a">50</text>
<rect x="57" y="482" width="8" height="1" fill="#000"/>
<text x="47.3" y="482.5" transform="rotate(-90 47.3 482.5) translate(0 482.5) scale(1 1.07) translate(0 -482.5)" text-anchor="middle" class="a">60</text>
<rect x="684" y="716" width="6" height="1" fill="#000"/>
<rect x="689.08" y="715.77" width="5.21" height="0.73" fill="#FFFF00" stroke="#000" stroke-width="1" shape-rendering="crispEdges" clip-path="url(#c4)"/>
<rect x="700" y="716" width="6" height="1" fill="#000"/>
<rect x="705" y="716" width="6" height="1" fill="#000"/>
<rect x="715" y="716" width="6" height="1" fill="#000"/>
<rect x="720" y="716" width="7" height="1" fill="#000"/>
<rect x="731" y="716" width="6" height="1" fill="#000"/>
<rect x="736.01" y="715.77" width="5.21" height="0.73" fill="#FFFF00" stroke="#000" stroke-width="1" shape-rendering="crispEdges" clip-path="url(#c4)"/>
<rect x="746" y="716" width="7" height="1" fill="#000"/>
<rect x="752" y="716" width="6" height="1" fill="#000"/>
<rect x="762.08" y="715.77" width="5.21" height="0.73" fill="#0000FF" stroke="#000" stroke-width="1" shape-rendering="crispEdges" clip-path="url(#c4)"/>
<rect x="767.29" y="715.77" width="5.21" height="0.73" fill="#FFFF00" stroke="#000" stroke-width="1" shape-rendering="crispEdges" clip-path="url(#c4)"/>
<rect x="777.72" y="714.68" width="5.21" height="1.82" fill="#0000FF" stroke="#000" stroke-width="1" shape-rendering="crispEdges" clip-path="url(#c4)"/>
<rect x="783" y="716" width="6" height="1" fill="#000"/>
<rect x="793.36" y="714.68" width="5.21" height="1.82" fill="#0000FF" stroke="#000" stroke-width="1" shape-rendering="crispEdges" clip-path="url(#c4)"/>
<rect x="798.58" y="715.77" width="5.21" height="0.73" fill="#FFFF00" stroke="#000" stroke-width="1" shape-rendering="crispEdges" clip-path="url(#c4)"/>
<rect x="809.01" y="714.68" width="5.21" height="1.82" fill="#0000FF" stroke="#000" stroke-width="1" shape-rendering="crispEdges" clip-path="url(#c4)"/>
<rect x="814.22" y="715.77" width="5.21" height="0.73" fill="#FFFF00" stroke="#000" stroke-width="1" shape-rendering="crispEdges" clip-path="url(#c4)"/>
<rect x="824.65" y="714.68" width="5.21" height="1.82" fill="#0000FF" stroke="#000" stroke-width="1" shape-rendering="crispEdges" clip-path="url(#c4)"/>
<rect x="829.86" y="714.68" width="5.21" height="1.82" fill="#FFFF00" stroke="#000" stroke-width="1" shape-rendering="crispEdges" clip-path="url(#c4)"/>
<rect x="840.29" y="704.15" width="5.21" height="12.35" fill="#0000FF" stroke="#000" stroke-width="1" shape-rendering="crispEdges" clip-path="url(#c4)"/>
<rect x="845.51" y="711.41" width="5.21" height="5.09" fill="#FFFF00" stroke="#000" stroke-width="1" shape-rendering="crispEdges" clip-path="url(#c4)"/>
<rect x="855.94" y="697.61" width="5.21" height="18.89" fill="#0000FF" stroke="#000" stroke-width="1" shape-rendering="crispEdges" clip-path="url(#c4)"/>
<rect x="861.15" y="704.51" width="5.21" height="11.99" fill="#FFFF00" stroke="#000" stroke-width="1" shape-rendering="crispEdges" clip-path="url(#c4)"/>
<rect x="871.58" y="669.27" width="5.21" height="47.23" fill="#0000FF" stroke="#000" stroke-width="1" shape-rendering="crispEdges" clip-path="url(#c4)"/>
<rect x="876.79" y="682.35" width="5.21" height="34.15" fill="#FFFF00" stroke="#000" stroke-width="1" shape-rendering="crispEdges" clip-path="url(#c4)"/>
<rect x="887.22" y="626.39" width="5.21" height="90.11" fill="#0000FF" stroke="#000" stroke-width="1" shape-rendering="crispEdges" clip-path="url(#c4)"/>
<rect x="892.44" y="614.40" width="5.21" height="102.10" fill="#FFFF00" stroke="#000" stroke-width="1" shape-rendering="crispEdges" clip-path="url(#c4)"/>
<rect x="902.86" y="470.16" width="5.21" height="246.34" fill="#0000FF" stroke="#000" stroke-width="1" shape-rendering="crispEdges" clip-path="url(#c4)"/>
<rect x="908.08" y="465.00" width="5.21" height="251.50" fill="#FFFF00" stroke="#000" stroke-width="1" shape-rendering="crispEdges" clip-path="url(#c4)"/>
<rect x="918.51" y="620.94" width="5.21" height="95.56" fill="#0000FF" stroke="#000" stroke-width="1" shape-rendering="crispEdges" clip-path="url(#c4)"/>
<rect x="923.72" y="579.89" width="5.21" height="136.61" fill="#FFFF00" stroke="#000" stroke-width="1" shape-rendering="crispEdges" clip-path="url(#c4)"/>
<rect x="934.15" y="668.18" width="5.21" height="48.32" fill="#0000FF" stroke="#000" stroke-width="1" shape-rendering="crispEdges" clip-path="url(#c4)"/>
<rect x="939.36" y="676.90" width="5.21" height="39.60" fill="#FFFF00" stroke="#000" stroke-width="1" shape-rendering="crispEdges" clip-path="url(#c4)"/>
<rect x="949.79" y="696.15" width="5.21" height="20.35" fill="#0000FF" stroke="#000" stroke-width="1" shape-rendering="crispEdges" clip-path="url(#c4)"/>
<rect x="955.01" y="705.60" width="5.21" height="10.90" fill="#FFFF00" stroke="#000" stroke-width="1" shape-rendering="crispEdges" clip-path="url(#c4)"/>
<rect x="965.44" y="707.42" width="5.21" height="9.08" fill="#0000FF" stroke="#000" stroke-width="1" shape-rendering="crispEdges" clip-path="url(#c4)"/>
<rect x="970.65" y="715.77" width="5.21" height="0.73" fill="#FFFF00" stroke="#000" stroke-width="1" shape-rendering="crispEdges" clip-path="url(#c4)"/>
<rect x="981.08" y="712.14" width="5.21" height="4.36" fill="#0000FF" stroke="#000" stroke-width="1" shape-rendering="crispEdges" clip-path="url(#c4)"/>
<rect x="986.29" y="715.77" width="5.21" height="0.73" fill="#FFFF00" stroke="#000" stroke-width="1" shape-rendering="crispEdges" clip-path="url(#c4)"/>
<rect x="996.72" y="714.32" width="5.21" height="2.18" fill="#0000FF" stroke="#000" stroke-width="1" shape-rendering="crispEdges" clip-path="url(#c4)"/>
<rect x="1001.94" y="715.77" width="5.21" height="0.73" fill="#FFFF00" stroke="#000" stroke-width="1" shape-rendering="crispEdges" clip-path="url(#c4)"/>
<rect x="1012.36" y="715.77" width="5.21" height="0.73" fill="#0000FF" stroke="#000" stroke-width="1" shape-rendering="crispEdges" clip-path="url(#c4)"/>
<rect x="1017.58" y="715.77" width="5.21" height="0.73" fill="#FFFF00" stroke="#000" stroke-width="1" shape-rendering="crispEdges" clip-path="url(#c4)"/>
<rect x="1028.01" y="715.77" width="5.21" height="0.73" fill="#0000FF" stroke="#000" stroke-width="1" shape-rendering="crispEdges" clip-path="url(#c4)"/>
<rect x="1033.22" y="715.77" width="5.21" height="0.73" fill="#FFFF00" stroke="#000" stroke-width="1" shape-rendering="crispEdges" clip-path="url(#c4)"/>
<rect x="1044" y="716" width="6" height="1" fill="#000"/>
<rect x="1049" y="716" width="6" height="1" fill="#000"/>
<rect x="1059" y="716" width="7" height="1" fill="#000"/>
<rect x="1064.51" y="715.77" width="5.21" height="0.73" fill="#FFFF00" stroke="#000" stroke-width="1" shape-rendering="crispEdges" clip-path="url(#c4)"/>
<rect x="1075" y="716" width="6" height="1" fill="#000"/>
<rect x="1080" y="716" width="6" height="1" fill="#000"/>
<rect x="1091" y="716" width="6" height="1" fill="#000"/>
<rect x="1096" y="716" width="6" height="1" fill="#000"/>
<rect x="1106" y="716" width="6" height="1" fill="#000"/>
<rect x="1111" y="716" width="7" height="1" fill="#000"/>
<rect x="1122" y="716" width="6" height="1" fill="#000"/>
<rect x="1127" y="716" width="6" height="1" fill="#000"/>
<rect x="1138" y="716" width="6" height="1" fill="#000"/>
<rect x="1143" y="716" width="6" height="1" fill="#000"/>
<text x="646.6" y="748" transform="translate(0 748) scale(1 1.07) translate(0 -748)" style="font-size:13.122px;">[-0.128,-0.119)</text>
<text x="751.2" y="748" transform="translate(0 748) scale(1 1.07) translate(0 -748)" style="font-size:13.024px;">[-0.0658,-0.057)</text>
<text x="873.2" y="748" transform="translate(0 748) scale(1 1.07) translate(0 -748)" style="font-size:13.107px;">[0.00481,0.0136)</text>
<text x="987.4" y="748" transform="translate(0 748) scale(1 1.07) translate(0 -748)" style="font-size:13.018px;">[0.0666,0.0755)</text>
<text x="1091.5" y="748" transform="translate(0 748) scale(1 1.07) translate(0 -748)" style="font-size:13.184px;">[0.12,0.128)</text>
<text x="897.25" y="780" transform="translate(0 780) scale(1 1.07) translate(0 -780)" style="font-size:12.878px;">return</text>
<text x="615" y="592.95" transform="rotate(-90 615 592.95) translate(0 592.95) scale(1 1.07) translate(0 -592.95)" text-anchor="middle" style="font-size:12.891px">frequency</text>
<text x="718.3" y="440" transform="translate(0 440) scale(1 1.05) translate(0 -440)" style="font-size:15.969px;font-weight:bold;">GCMG versus S&amp;P500 return frequency distribution</text>
<rect x="657" y="716" width="8" height="1" fill="#000"/>
<text x="647.3" y="716.5" transform="rotate(-90 647.3 716.5) translate(0 716.5) scale(1 1.07) translate(0 -716.5)" text-anchor="middle" class="a">0</text>
<rect x="657" y="679" width="8" height="1" fill="#000"/>
<text x="647.3" y="679.5" transform="rotate(-90 647.3 679.5) translate(0 679.5) scale(1 1.07) translate(0 -679.5)" text-anchor="middle" class="a">100</text>
<rect x="657" y="643" width="8" height="1" fill="#000"/>
<text x="647.3" y="643.5" transform="rotate(-90 647.3 643.5) translate(0 643.5) scale(1 1.07) translate(0 -643.5)" text-anchor="middle" class="a">200</text>
<rect x="657" y="607" width="8" height="1" fill="#000"/>
<text x="647.3" y="607.5" transform="rotate(-90 647.3 607.5) translate(0 607.5) scale(1 1.07) translate(0 -607.5)" text-anchor="middle" class="a">300</text>
<rect x="657" y="570" width="8" height="1" fill="#000"/>
<text x="647.3" y="570.5" transform="rotate(-90 647.3 570.5) translate(0 570.5) scale(1 1.07) translate(0 -570.5)" text-anchor="middle" class="a">400</text>
<rect x="657" y="534" width="8" height="1" fill="#000"/>
<text x="647.3" y="534.5" transform="rotate(-90 647.3 534.5) translate(0 534.5) scale(1 1.07) translate(0 -534.5)" text-anchor="middle" class="a">500</text>
<rect x="657" y="498" width="8" height="1" fill="#000"/>
<text x="647.3" y="498.5" transform="rotate(-90 647.3 498.5) translate(0 498.5) scale(1 1.07) translate(0 -498.5)" text-anchor="middle" class="a">600</text>
<rect x="65.5" y="65.5" width="501" height="253" fill="none" stroke="#000" stroke-width="1"/>
<rect x="665.5" y="65.5" width="501" height="253" fill="none" stroke="#000" stroke-width="1"/>
<rect x="65.5" y="465.5" width="501" height="253" fill="none" stroke="#000" stroke-width="1"/>
<rect x="665.5" y="465.5" width="501" height="253" fill="none" stroke="#000" stroke-width="1"/>
<rect x="999.5" y="65.5" width="167" height="48" fill="#fff" stroke="#000" stroke-width="1"/>
<rect x="1011" y="80" width="25" height="2" fill="#0000FF"/>
<rect x="1011" y="97" width="25" height="1" fill="#FFFF00"/>
<text x="1046.5" y="87" transform="translate(0 87) scale(1 1.07) translate(0 -87)" style="font-size:13.21px;">GCMG stock return</text>
<text x="1046.5" y="103" transform="translate(0 103) scale(1 1.07) translate(0 -103)" style="font-size:13.28px;">GSPC stock return</text>
<rect x="65.5" y="465.5" width="198" height="48" fill="#fff" stroke="#000" stroke-width="1"/>
<rect x="77" y="480" width="25" height="2" fill="#228B22"/>
<rect x="77" y="497" width="25" height="1" fill="#FFA500"/>
<text x="112.75" y="487" transform="translate(0 487) scale(1 1.07) translate(0 -487)" style="font-size:13.003px;">GCMG return distribution</text>
<text x="112.75" y="503" transform="translate(0 503) scale(1 1.07) translate(0 -503)" style="font-size:13.088px;">GSPC return distribution</text>
<rect x="990.5" y="465.5" width="176" height="48" fill="#fff" stroke="#000" stroke-width="1"/>
<rect x="1002.5" y="477.5" width="9" height="8" fill="#0000FF" stroke="#000" stroke-width="1"/>
<rect x="1002.5" y="493.5" width="9" height="8" fill="#FFFF00" stroke="#000" stroke-width="1"/>
<text x="1022.75" y="487" transform="translate(0 487) scale(1 1.07) translate(0 -487)" style="font-size:12.842px;">GCMG return frequency</text>
<text x="1022.75" y="503" transform="translate(0 503) scale(1 1.07) translate(0 -503)" style="font-size:12.888px;">GSPC return frequency</text>
</svg></body></html>
